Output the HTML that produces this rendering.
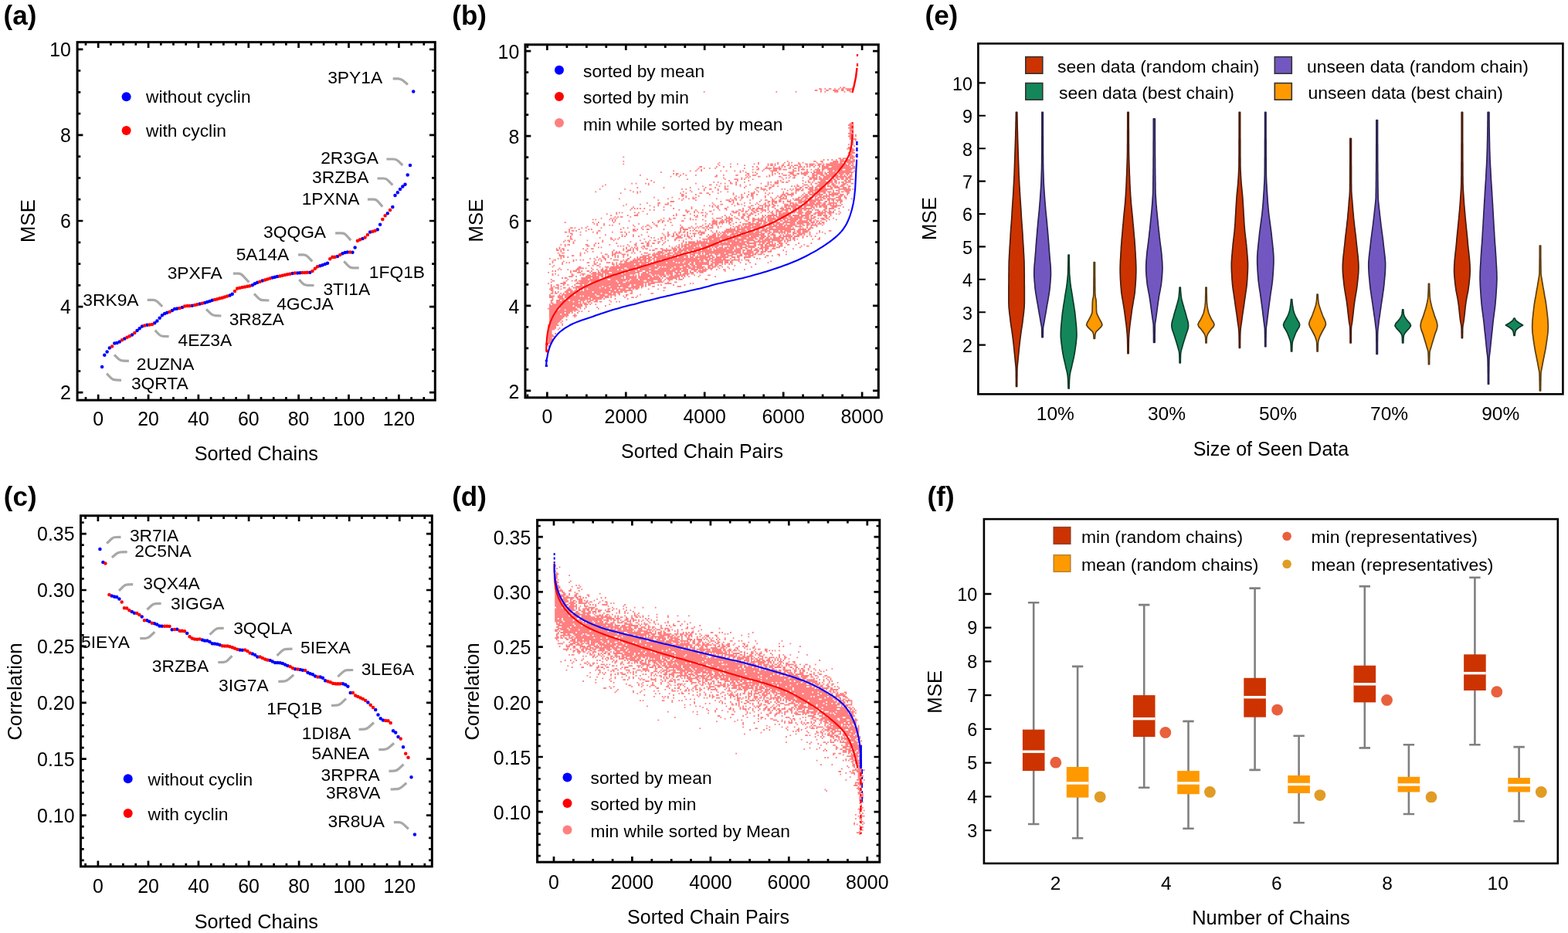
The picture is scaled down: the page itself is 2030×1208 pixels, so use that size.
<!DOCTYPE html>
<html><head><meta charset="utf-8"><title>Figure</title>
<style>
html,body{margin:0;padding:0;background:#fff;}
body{width:2030px;height:1208px;overflow:hidden;}
svg{display:block;font-family:'Liberation Sans', sans-serif;}
</style></head><body>
<svg width="2030" height="1208" viewBox="0 0 2030 1208">
<rect width="2030" height="1208" fill="#fff"/>
<rect x="100.1" y="54.6" width="463.2" height="463.5" fill="none" stroke="#000" stroke-width="3"/>
<path d="M111 518.1L111 513.9M111 54.6L111 58.8M127.2 518.1L127.2 510.8M127.2 54.6L127.2 61.9M143.4 518.1L143.4 513.9M143.4 54.6L143.4 58.8M159.6 518.1L159.6 513.9M159.6 54.6L159.6 58.8M175.8 518.1L175.8 513.9M175.8 54.6L175.8 58.8M192.1 518.1L192.1 510.8M192.1 54.6L192.1 61.9M208.3 518.1L208.3 513.9M208.3 54.6L208.3 58.8M224.5 518.1L224.5 513.9M224.5 54.6L224.5 58.8M240.7 518.1L240.7 513.9M240.7 54.6L240.7 58.8M256.9 518.1L256.9 510.8M256.9 54.6L256.9 61.9M273.1 518.1L273.1 513.9M273.1 54.6L273.1 58.8M289.4 518.1L289.4 513.9M289.4 54.6L289.4 58.8M305.6 518.1L305.6 513.9M305.6 54.6L305.6 58.8M321.8 518.1L321.8 510.8M321.8 54.6L321.8 61.9M338 518.1L338 513.9M338 54.6L338 58.8M354.2 518.1L354.2 513.9M354.2 54.6L354.2 58.8M370.4 518.1L370.4 513.9M370.4 54.6L370.4 58.8M386.6 518.1L386.6 510.8M386.6 54.6L386.6 61.9M402.9 518.1L402.9 513.9M402.9 54.6L402.9 58.8M419.1 518.1L419.1 513.9M419.1 54.6L419.1 58.8M435.3 518.1L435.3 513.9M435.3 54.6L435.3 58.8M451.5 518.1L451.5 510.8M451.5 54.6L451.5 61.9M467.7 518.1L467.7 513.9M467.7 54.6L467.7 58.8M483.9 518.1L483.9 513.9M483.9 54.6L483.9 58.8M500.1 518.1L500.1 513.9M500.1 54.6L500.1 58.8M516.4 518.1L516.4 510.8M516.4 54.6L516.4 61.9M532.6 518.1L532.6 513.9M532.6 54.6L532.6 58.8M548.8 518.1L548.8 513.9M548.8 54.6L548.8 58.8M100.1 508.2L107.4 508.2M563.3 508.2L556 508.2M100.1 480.5L104.3 480.5M563.3 480.5L559.1 480.5M100.1 452.7L104.3 452.7M563.3 452.7L559.1 452.7M100.1 424.9L104.3 424.9M563.3 424.9L559.1 424.9M100.1 397.1L107.4 397.1M563.3 397.1L556 397.1M100.1 369.3L104.3 369.3M563.3 369.3L559.1 369.3M100.1 341.6L104.3 341.6M563.3 341.6L559.1 341.6M100.1 313.8L104.3 313.8M563.3 313.8L559.1 313.8M100.1 286L107.4 286M563.3 286L556 286M100.1 258.2L104.3 258.2M563.3 258.2L559.1 258.2M100.1 230.4L104.3 230.4M563.3 230.4L559.1 230.4M100.1 202.7L104.3 202.7M563.3 202.7L559.1 202.7M100.1 174.9L107.4 174.9M563.3 174.9L556 174.9M100.1 147.1L104.3 147.1M563.3 147.1L559.1 147.1M100.1 119.3L104.3 119.3M563.3 119.3L559.1 119.3M100.1 91.5L104.3 91.5M563.3 91.5L559.1 91.5M100.1 63.8L107.4 63.8M563.3 63.8L556 63.8" stroke="#000" stroke-width="2.7" fill="none"/>
<text x="4.6" y="31.6" font-size="35" font-weight="bold">(a)</text>
<text x="91.9" y="517.1" font-size="24.9" text-anchor="end">2</text>
<text x="91.9" y="406" font-size="24.9" text-anchor="end">4</text>
<text x="91.9" y="294.9" font-size="24.9" text-anchor="end">6</text>
<text x="91.9" y="183.8" font-size="24.9" text-anchor="end">8</text>
<text x="91.9" y="72.7" font-size="24.9" text-anchor="end">10</text>
<text x="127.2" y="551" font-size="24.9" text-anchor="middle">0</text>
<text x="192.1" y="551" font-size="24.9" text-anchor="middle">20</text>
<text x="256.9" y="551" font-size="24.9" text-anchor="middle">40</text>
<text x="321.8" y="551" font-size="24.9" text-anchor="middle">60</text>
<text x="386.6" y="551" font-size="24.9" text-anchor="middle">80</text>
<text x="451.5" y="551" font-size="24.9" text-anchor="middle">100</text>
<text x="516.4" y="551" font-size="24.9" text-anchor="middle">120</text>
<text x="331.8" y="595.5" font-size="25.3" text-anchor="middle">Sorted Chains</text>
<text x="45" y="286" font-size="25.8" text-anchor="middle" transform="rotate(-90 45 286)">MSE</text>
<path d="M132.1 475h0.02M135.3 459.8h0.02M138.6 455.6h0.02M141.8 450.6h0.02M148.3 444.5h0.02M151.5 443.9h0.02M154.8 442.4h0.02M161.3 438.5h0.02M171 433.5h0.02M177.5 428.1h0.02M180.7 425.2h0.02M184 422.6h0.02M190.5 420.7h0.02M200.2 418.2h0.02M203.4 415.6h0.02M206.7 411.7h0.02M209.9 408.2h0.02M213.2 406.1h0.02M216.4 404.8h0.02M222.9 402h0.02M226.1 400.1h0.02M229.4 399.5h0.02M235.9 397.9h0.02M248.8 395.8h0.02M258.6 393.4h0.02M265.1 392.1h0.02M268.3 391.1h0.02M271.5 389.9h0.02M274.8 388.8h0.02M297.5 382.4h0.02M300.7 380.7h0.02M326.7 369.2h0.02M329.9 367.3h0.02M333.2 365.7h0.02M339.6 363.6h0.02M352.6 359.5h0.02M355.9 358.8h0.02M359.1 358.1h0.02M378.6 354h0.02M385.1 353.4h0.02M388.3 353.3h0.02M401.3 352.7h0.02M414.2 344.2h0.02M417.5 343.3h0.02M420.7 342h0.02M424 340.7h0.02M436.9 331.9h0.02M443.4 328.3h0.02M446.7 327.1h0.02M449.9 326.4h0.02M456.4 326.8h0.02M459.6 320.6h0.02M469.4 308.9h0.02M479.1 300.6h0.02M488.8 297.2h0.02M492.1 290.7h0.02M501.8 276.2h0.02M508.3 268h0.02M511.5 253.1h0.02M514.8 249.2h0.02M518 245.1h0.02M521.3 241.6h0.02M524.5 238.8h0.02M527.7 226.5h0.02M531 214h0.02M535.2 118.5h0.02" stroke="#0000ff" stroke-width="4.5" stroke-linecap="round" fill="none"/>
<path d="M145.1 448.4h0.02M158 440.2h0.02M164.5 436.8h0.02M167.8 435.2h0.02M174.3 431.1h0.02M187.2 421.5h0.02M193.7 420.5h0.02M197 420.1h0.02M219.7 403.7h0.02M232.6 399h0.02M239.1 396.5h0.02M242.4 395.9h0.02M245.6 395.9h0.02M252.1 395h0.02M255.3 394.2h0.02M261.8 392.8h0.02M278 388h0.02M281.3 387.2h0.02M284.5 386.3h0.02M287.8 385.4h0.02M291 384.5h0.02M294.2 383.5h0.02M304 377.1h0.02M307.2 373.6h0.02M310.5 372.7h0.02M313.7 372.1h0.02M316.9 371.4h0.02M320.2 370.8h0.02M323.4 370.2h0.02M336.4 364.7h0.02M342.9 362.6h0.02M346.1 361.5h0.02M349.4 360.5h0.02M362.3 357.4h0.02M365.6 356.7h0.02M368.8 356h0.02M372.1 355.3h0.02M375.3 354.7h0.02M381.8 353.5h0.02M391.5 353.1h0.02M394.8 353h0.02M398 352.8h0.02M404.5 350.9h0.02M407.8 347.8h0.02M411 345.2h0.02M427.2 335.2h0.02M430.5 332.8h0.02M433.7 332.8h0.02M440.2 329.9h0.02M453.2 326.6h0.02M462.9 311.7h0.02M466.1 310.3h0.02M472.6 307.5h0.02M475.9 304h0.02M482.3 299.8h0.02M485.6 298.8h0.02M495.3 284h0.02M498.6 279.3h0.02M505 271.9h0.02" stroke="#ff0000" stroke-width="4.5" stroke-linecap="round" fill="none"/>
<circle cx="163.6" cy="125.2" r="6" fill="#0000ff"/>
<circle cx="163.6" cy="168.9" r="6" fill="#ff0000"/>
<text x="189" y="133.2" font-size="22.8">without cyclin</text>
<text x="189" y="177" font-size="22.8">with cyclin</text>
<path d="M508.6 101.8L515.5 101.8Q518.5 101.8 521.4 104.1L528 109.5" stroke="#a8a8a8" stroke-width="3.2" fill="none"/>
<text x="424.2" y="107.6" font-size="22.8">3PY1A</text>
<path d="M500.4 206L509.2 206Q513 206 515.5 208.4L521.3 214" stroke="#a8a8a8" stroke-width="3.2" fill="none"/>
<text x="415.2" y="211.6" font-size="22.8">2R3GA</text>
<path d="M488.5 231L496.6 231Q500 231 502.5 233.6L508.3 239.6" stroke="#a8a8a8" stroke-width="3.2" fill="none"/>
<text x="404" y="237.4" font-size="22.8">3RZBA</text>
<path d="M475.9 258.2L483.7 258.2Q487 258.2 489.5 261L495.2 267.6" stroke="#a8a8a8" stroke-width="3.2" fill="none"/>
<text x="390.7" y="265.2" font-size="22.8">1PXNA</text>
<path d="M434.1 301.9L442.4 301.9Q446 301.9 448.5 304.7L454.2 311.1" stroke="#a8a8a8" stroke-width="3.2" fill="none"/>
<text x="341" y="308.2" font-size="22.8">3QQGA</text>
<path d="M386.1 329.8L393 329.8Q396 329.8 398.5 332.4L404.3 338.3" stroke="#a8a8a8" stroke-width="3.2" fill="none"/>
<text x="305.7" y="336.5" font-size="22.8">5A14A</text>
<path d="M445.3 338.3L451 344.3Q453.5 346.9 456.9 346.9L464.7 346.9" stroke="#a8a8a8" stroke-width="3.2" fill="none"/>
<text x="477.8" y="360" font-size="22.8">1FQ1B</text>
<path d="M387.2 362L392 367.1Q394 369.3 397.8 369.4L406.5 369.5" stroke="#a8a8a8" stroke-width="3.2" fill="none"/>
<text x="418.4" y="382.2" font-size="22.8">3TI1A</text>
<path d="M329 380.4L334.6 386.1Q337 388.6 340.4 388.7L348.4 389" stroke="#a8a8a8" stroke-width="3.2" fill="none"/>
<text x="358.2" y="400.9" font-size="22.8">4GCJA</text>
<path d="M267 400.4L272.9 406.1Q275.5 408.6 278.8 408.7L286.4 409" stroke="#a8a8a8" stroke-width="3.2" fill="none"/>
<text x="296.7" y="421.3" font-size="22.8">3R8ZA</text>
<path d="M301.8 354.2L308.9 354.2Q312 354.2 315.1 357.6L322.4 365.5" stroke="#a8a8a8" stroke-width="3.2" fill="none"/>
<text x="216.7" y="361.3" font-size="22.8">3PXFA</text>
<path d="M190.7 388.3L198.3 388.3Q201.5 388.3 204.1 390.9L210.2 396.9" stroke="#a8a8a8" stroke-width="3.2" fill="none"/>
<text x="107.3" y="395.5" font-size="22.8">3RK9A</text>
<path d="M200.7 427.7L205.8 433Q208 435.3 211.2 435.4L218.6 435.6" stroke="#a8a8a8" stroke-width="3.2" fill="none"/>
<text x="230.5" y="448.2" font-size="22.8">4EZ3A</text>
<path d="M148 459.5L153.6 464.8Q156 467 159.3 467.1L166.9 467.4" stroke="#a8a8a8" stroke-width="3.2" fill="none"/>
<text x="176.8" y="479.3" font-size="22.8">2UZNA</text>
<path d="M138.1 483.7L143.6 489.4Q146 491.8 149.3 491.9L157 492.3" stroke="#a8a8a8" stroke-width="3.2" fill="none"/>
<text x="169.9" y="504.2" font-size="22.8">3QRTA</text>
<rect x="104.5" y="667.7" width="454.8" height="454.2" fill="none" stroke="#000" stroke-width="3"/>
<path d="M110.6 1121.9L110.6 1117.7M110.6 667.7L110.6 671.9M126.9 1121.9L126.9 1114.6M126.9 667.7L126.9 675M143.2 1121.9L143.2 1117.7M143.2 667.7L143.2 671.9M159.4 1121.9L159.4 1117.7M159.4 667.7L159.4 671.9M175.7 1121.9L175.7 1117.7M175.7 667.7L175.7 671.9M192 1121.9L192 1114.6M192 667.7L192 675M208.2 1121.9L208.2 1117.7M208.2 667.7L208.2 671.9M224.5 1121.9L224.5 1117.7M224.5 667.7L224.5 671.9M240.8 1121.9L240.8 1117.7M240.8 667.7L240.8 671.9M257 1121.9L257 1114.6M257 667.7L257 675M273.3 1121.9L273.3 1117.7M273.3 667.7L273.3 671.9M289.6 1121.9L289.6 1117.7M289.6 667.7L289.6 671.9M305.8 1121.9L305.8 1117.7M305.8 667.7L305.8 671.9M322.1 1121.9L322.1 1114.6M322.1 667.7L322.1 675M338.3 1121.9L338.3 1117.7M338.3 667.7L338.3 671.9M354.6 1121.9L354.6 1117.7M354.6 667.7L354.6 671.9M370.9 1121.9L370.9 1117.7M370.9 667.7L370.9 671.9M387.1 1121.9L387.1 1114.6M387.1 667.7L387.1 675M403.4 1121.9L403.4 1117.7M403.4 667.7L403.4 671.9M419.7 1121.9L419.7 1117.7M419.7 667.7L419.7 671.9M435.9 1121.9L435.9 1117.7M435.9 667.7L435.9 671.9M452.2 1121.9L452.2 1114.6M452.2 667.7L452.2 675M468.5 1121.9L468.5 1117.7M468.5 667.7L468.5 671.9M484.7 1121.9L484.7 1117.7M484.7 667.7L484.7 671.9M501 1121.9L501 1117.7M501 667.7L501 671.9M517.3 1121.9L517.3 1114.6M517.3 667.7L517.3 675M533.5 1121.9L533.5 1117.7M533.5 667.7L533.5 671.9M549.8 1121.9L549.8 1117.7M549.8 667.7L549.8 671.9M104.5 1113.9L108.7 1113.9M559.3 1113.9L555.1 1113.9M104.5 1099.3L108.7 1099.3M559.3 1099.3L555.1 1099.3M104.5 1084.8L108.7 1084.8M559.3 1084.8L555.1 1084.8M104.5 1070.2L108.7 1070.2M559.3 1070.2L555.1 1070.2M104.5 1055.6L111.8 1055.6M559.3 1055.6L552 1055.6M104.5 1041L108.7 1041M559.3 1041L555.1 1041M104.5 1026.4L108.7 1026.4M559.3 1026.4L555.1 1026.4M104.5 1011.9L108.7 1011.9M559.3 1011.9L555.1 1011.9M104.5 997.3L108.7 997.3M559.3 997.3L555.1 997.3M104.5 982.7L111.8 982.7M559.3 982.7L552 982.7M104.5 968.1L108.7 968.1M559.3 968.1L555.1 968.1M104.5 953.5L108.7 953.5M559.3 953.5L555.1 953.5M104.5 939L108.7 939M559.3 939L555.1 939M104.5 924.4L108.7 924.4M559.3 924.4L555.1 924.4M104.5 909.8L111.8 909.8M559.3 909.8L552 909.8M104.5 895.2L108.7 895.2M559.3 895.2L555.1 895.2M104.5 880.6L108.7 880.6M559.3 880.6L555.1 880.6M104.5 866.1L108.7 866.1M559.3 866.1L555.1 866.1M104.5 851.5L108.7 851.5M559.3 851.5L555.1 851.5M104.5 836.9L111.8 836.9M559.3 836.9L552 836.9M104.5 822.3L108.7 822.3M559.3 822.3L555.1 822.3M104.5 807.7L108.7 807.7M559.3 807.7L555.1 807.7M104.5 793.2L108.7 793.2M559.3 793.2L555.1 793.2M104.5 778.6L108.7 778.6M559.3 778.6L555.1 778.6M104.5 764L111.8 764M559.3 764L552 764M104.5 749.4L108.7 749.4M559.3 749.4L555.1 749.4M104.5 734.8L108.7 734.8M559.3 734.8L555.1 734.8M104.5 720.3L108.7 720.3M559.3 720.3L555.1 720.3M104.5 705.7L108.7 705.7M559.3 705.7L555.1 705.7M104.5 691.1L111.8 691.1M559.3 691.1L552 691.1M104.5 676.5L108.7 676.5M559.3 676.5L555.1 676.5" stroke="#000" stroke-width="2.7" fill="none"/>
<text x="4.8" y="654.6" font-size="35" font-weight="bold">(c)</text>
<text x="96.5" y="1064.6" font-size="24.9" text-anchor="end">0.10</text>
<text x="96.5" y="991.7" font-size="24.9" text-anchor="end">0.15</text>
<text x="96.5" y="918.8" font-size="24.9" text-anchor="end">0.20</text>
<text x="96.5" y="845.9" font-size="24.9" text-anchor="end">0.25</text>
<text x="96.5" y="773" font-size="24.9" text-anchor="end">0.30</text>
<text x="96.5" y="700.1" font-size="24.9" text-anchor="end">0.35</text>
<text x="126.9" y="1156" font-size="24.9" text-anchor="middle">0</text>
<text x="192" y="1156" font-size="24.9" text-anchor="middle">20</text>
<text x="257" y="1156" font-size="24.9" text-anchor="middle">40</text>
<text x="322.1" y="1156" font-size="24.9" text-anchor="middle">60</text>
<text x="387.1" y="1156" font-size="24.9" text-anchor="middle">80</text>
<text x="452.2" y="1156" font-size="24.9" text-anchor="middle">100</text>
<text x="517.3" y="1156" font-size="24.9" text-anchor="middle">120</text>
<text x="331.8" y="1201.5" font-size="25.3" text-anchor="middle">Sorted Chains</text>
<text x="28.1" y="895.5" font-size="25.8" text-anchor="middle" transform="rotate(-90 28.1 895.5)">Correlation</text>
<path d="M129.4 710.9h0.02M133.4 728h0.02M144.6 771.4h0.02M147.9 772.5h0.02M151.1 772.9h0.02M154.4 775.5h0.02M170.7 792h0.02M173.9 793.8h0.02M183.7 798.5h0.02M190.2 803.2h0.02M193.4 804.7h0.02M199.9 807.3h0.02M203.2 808.5h0.02M206.5 810.4h0.02M209.7 810.7h0.02M222.7 815.2h0.02M229.2 814.8h0.02M242.2 820h0.02M261.8 828.5h0.02M265 829.5h0.02M268.3 829.5h0.02M271.5 831.1h0.02M274.8 833.2h0.02M278 833.6h0.02M281.3 834h0.02M284.5 835.1h0.02M310.5 841.6h0.02M313.8 841.7h0.02M326.8 846.5h0.02M330.1 848.1h0.02M333.3 850.6h0.02M349.6 855h0.02M352.8 856.5h0.02M356.1 858h0.02M359.3 858.1h0.02M362.6 858.3h0.02M365.8 859h0.02M369.1 860.4h0.02M372.4 862h0.02M382.1 866.3h0.02M388.6 867h0.02M391.9 867.8h0.02M398.4 870.8h0.02M401.6 872.3h0.02M404.9 873.2h0.02M408.1 875.6h0.02M414.6 876.4h0.02M417.9 877.8h0.02M421.1 881.3h0.02M443.9 885.3h0.02M447.2 886.5h0.02M450.4 888.7h0.02M453.7 897h0.02M476.4 909.6h0.02M486.2 919.1h0.02M489.5 925.5h0.02M492.7 930.2h0.02M496 932.6h0.02M509 946.3h0.02M512.2 948.6h0.02M515.5 953.9h0.02M522 967.2h0.02M532.5 1006.2h0.02M536.9 1080.4h0.02" stroke="#0000ff" stroke-width="4.5" stroke-linecap="round" fill="none"/>
<path d="M136.4 729.6h0.02M141.4 770h0.02M157.7 779.4h0.02M160.9 787.2h0.02M164.2 787.5h0.02M167.4 790.3h0.02M177.2 794.1h0.02M180.4 796.1h0.02M186.9 803.2h0.02M196.7 806.8h0.02M213 810.7h0.02M216.2 810.7h0.02M219.5 811.1h0.02M226 815h0.02M232.5 816.7h0.02M235.7 816.7h0.02M239 817.2h0.02M245.5 824.2h0.02M248.7 826.4h0.02M252 827.5h0.02M255.2 827.7h0.02M258.5 827.5h0.02M287.8 836.3h0.02M291 836.5h0.02M294.3 836.5h0.02M297.5 837.3h0.02M300.8 838.3h0.02M304 839.6h0.02M307.3 840.8h0.02M317.1 841.5h0.02M320.3 843.1h0.02M323.6 845.4h0.02M336.6 850.6h0.02M339.8 852h0.02M343.1 853.6h0.02M346.3 854.4h0.02M375.6 863.1h0.02M378.9 865h0.02M385.4 866.5h0.02M395.1 868h0.02M411.4 876.5h0.02M424.4 882.2h0.02M427.7 883.3h0.02M430.9 884.7h0.02M434.2 885.3h0.02M437.4 885.3h0.02M440.7 885.3h0.02M456.9 897.1h0.02M460.2 900.5h0.02M463.4 902h0.02M466.7 903.4h0.02M469.9 905.1h0.02M473.2 907.1h0.02M479.7 912.8h0.02M483 916h0.02M499.2 932.9h0.02M502.5 933.3h0.02M505.7 936.1h0.02M518.7 956.6h0.02M525.2 975.8h0.02M528.5 980.7h0.02" stroke="#ff0000" stroke-width="4.5" stroke-linecap="round" fill="none"/>
<circle cx="165.7" cy="1008.3" r="6" fill="#0000ff"/>
<circle cx="165.7" cy="1053" r="6" fill="#ff0000"/>
<text x="191.5" y="1017.2" font-size="22.8">without cyclin</text>
<text x="191.5" y="1062.3" font-size="22.8">with cyclin</text>
<path d="M138.2 703.6L144 698Q146.5 695.6 149.5 695.5L156.5 695.3" stroke="#a8a8a8" stroke-width="3.2" fill="none"/>
<text x="167.9" y="701.1" font-size="22.8">3R7IA</text>
<path d="M144.9 721.8L150.6 717Q153 715 156.5 714.9L164.7 714.7" stroke="#a8a8a8" stroke-width="3.2" fill="none"/>
<text x="174.2" y="720.5" font-size="22.8">2C5NA</text>
<path d="M154 764.9L159.6 759.4Q162 757 165.1 756.9L172.2 756.6" stroke="#a8a8a8" stroke-width="3.2" fill="none"/>
<text x="185.3" y="762.7" font-size="22.8">3QX4A</text>
<path d="M190.4 789.2L196.1 784Q198.5 781.7 201.5 781.6L208.6 781.4" stroke="#a8a8a8" stroke-width="3.2" fill="none"/>
<text x="220.9" y="788.5" font-size="22.8">3IGGA</text>
<path d="M271.5 821.6L277.8 815.9Q280.5 813.5 283.3 813.4L289.7 813.3" stroke="#a8a8a8" stroke-width="3.2" fill="none"/>
<text x="302.2" y="820.5" font-size="22.8">3QQLA</text>
<path d="M181.3 826.6L188.4 826.5Q191.5 826.4 194.1 824L200.3 818.3" stroke="#a8a8a8" stroke-width="3.2" fill="none"/>
<text x="105" y="838.5" font-size="22.8">5IEYA</text>
<path d="M282.3 857.5L289.4 857.4Q292.5 857.3 294.9 854.9L300.5 849.2" stroke="#a8a8a8" stroke-width="3.2" fill="none"/>
<text x="196.8" y="869.9" font-size="22.8">3RZBA</text>
<path d="M360.3 882.4L367.4 882.2Q370.5 882.1 373.4 879.6L380.2 873.7" stroke="#a8a8a8" stroke-width="3.2" fill="none"/>
<text x="283.1" y="895.3" font-size="22.8">3IG7A</text>
<path d="M358.6 848.9L364.8 842.9Q367.5 840.4 370.8 840.3L378.5 840.1" stroke="#a8a8a8" stroke-width="3.2" fill="none"/>
<text x="389.1" y="846.1" font-size="22.8">5IEXA</text>
<path d="M437.3 876.2L443.6 870.3Q446.3 867.8 449.6 867.7L457.2 867.5" stroke="#a8a8a8" stroke-width="3.2" fill="none"/>
<text x="467.7" y="873.7" font-size="22.8">3LE6A</text>
<path d="M429 913.5L436 913.2Q439 913.1 441.7 910.6L448 904.7" stroke="#a8a8a8" stroke-width="3.2" fill="none"/>
<text x="345.2" y="925.4" font-size="22.8">1FQ1B</text>
<path d="M464.6 944.4L471.7 944.1Q474.7 944 477.5 941.5L484 935.5" stroke="#a8a8a8" stroke-width="3.2" fill="none"/>
<text x="390.8" y="956.5" font-size="22.8">1DI8A</text>
<path d="M490.3 970.6L497.4 970.4Q500.5 970.3 503.4 967.9L510.1 962.3" stroke="#a8a8a8" stroke-width="3.2" fill="none"/>
<text x="403.5" y="982.5" font-size="22.8">5ANEA</text>
<path d="M503.5 998.4L510.5 998.1Q513.5 998 516.2 995.5L522.5 989.6" stroke="#a8a8a8" stroke-width="3.2" fill="none"/>
<text x="415.6" y="1010.7" font-size="22.8">3RPRA</text>
<path d="M505.6 1022L513.6 1021.7Q517 1021.6 519.8 1019.3L526.3 1013.8" stroke="#a8a8a8" stroke-width="3.2" fill="none"/>
<text x="421.9" y="1034.4" font-size="22.8">3R8VA</text>
<path d="M509.9 1064.6L516.6 1064.6Q519.5 1064.6 522.3 1067.2L528.8 1073.2" stroke="#a8a8a8" stroke-width="3.2" fill="none"/>
<text x="424.5" y="1071.1" font-size="22.8">3R8UA</text>
<rect x="680" y="57.8" width="457.3" height="457" fill="none" stroke="#000" stroke-width="3"/>
<path d="M682.9 514.8L682.9 510.6M682.9 57.8L682.9 62M708.4 514.8L708.4 507.5M708.4 57.8L708.4 65.1M733.9 514.8L733.9 510.6M733.9 57.8L733.9 62M759.4 514.8L759.4 510.6M759.4 57.8L759.4 62M784.8 514.8L784.8 510.6M784.8 57.8L784.8 62M810.3 514.8L810.3 507.5M810.3 57.8L810.3 65.1M835.8 514.8L835.8 510.6M835.8 57.8L835.8 62M861.3 514.8L861.3 510.6M861.3 57.8L861.3 62M886.8 514.8L886.8 510.6M886.8 57.8L886.8 62M912.2 514.8L912.2 507.5M912.2 57.8L912.2 65.1M937.7 514.8L937.7 510.6M937.7 57.8L937.7 62M963.2 514.8L963.2 510.6M963.2 57.8L963.2 62M988.7 514.8L988.7 510.6M988.7 57.8L988.7 62M1014.2 514.8L1014.2 507.5M1014.2 57.8L1014.2 65.1M1039.6 514.8L1039.6 510.6M1039.6 57.8L1039.6 62M1065.1 514.8L1065.1 510.6M1065.1 57.8L1065.1 62M1090.6 514.8L1090.6 510.6M1090.6 57.8L1090.6 62M1116.1 514.8L1116.1 507.5M1116.1 57.8L1116.1 65.1M680 505.8L687.3 505.8M1137.3 505.8L1130 505.8M680 478.3L684.2 478.3M1137.3 478.3L1133.1 478.3M680 450.9L684.2 450.9M1137.3 450.9L1133.1 450.9M680 423.4L684.2 423.4M1137.3 423.4L1133.1 423.4M680 395.9L687.3 395.9M1137.3 395.9L1130 395.9M680 368.4L684.2 368.4M1137.3 368.4L1133.1 368.4M680 340.9L684.2 340.9M1137.3 340.9L1133.1 340.9M680 313.5L684.2 313.5M1137.3 313.5L1133.1 313.5M680 286L687.3 286M1137.3 286L1130 286M680 258.5L684.2 258.5M1137.3 258.5L1133.1 258.5M680 231.1L684.2 231.1M1137.3 231.1L1133.1 231.1M680 203.6L684.2 203.6M1137.3 203.6L1133.1 203.6M680 176.1L687.3 176.1M1137.3 176.1L1130 176.1M680 148.6L684.2 148.6M1137.3 148.6L1133.1 148.6M680 121.1L684.2 121.1M1137.3 121.1L1133.1 121.1M680 93.7L684.2 93.7M1137.3 93.7L1133.1 93.7M680 66.2L687.3 66.2M1137.3 66.2L1130 66.2" stroke="#000" stroke-width="2.7" fill="none"/>
<text x="585.3" y="31.6" font-size="35" font-weight="bold">(b)</text>
<text x="672.3" y="515.8" font-size="24.9" text-anchor="end">2</text>
<text x="672.3" y="405.9" font-size="24.9" text-anchor="end">4</text>
<text x="672.3" y="296" font-size="24.9" text-anchor="end">6</text>
<text x="672.3" y="186.1" font-size="24.9" text-anchor="end">8</text>
<text x="672.3" y="76.2" font-size="24.9" text-anchor="end">10</text>
<text x="708.4" y="548.3" font-size="24.9" text-anchor="middle">0</text>
<text x="810.3" y="548.3" font-size="24.9" text-anchor="middle">2000</text>
<text x="912.2" y="548.3" font-size="24.9" text-anchor="middle">4000</text>
<text x="1014.2" y="548.3" font-size="24.9" text-anchor="middle">6000</text>
<text x="1116.1" y="548.3" font-size="24.9" text-anchor="middle">8000</text>
<text x="909" y="593" font-size="25" text-anchor="middle">Sorted Chain Pairs</text>
<text x="625" y="285.5" font-size="25.8" text-anchor="middle" transform="rotate(-90 625 285.5)">MSE</text>
<path transform="scale(1.8)" d="M604 63h1m1 0h2m5 0h1m-25 1h2m2 0h1m2 0h2m2 0h1m2 0h1m1 0h2m1 0h6m-28 1h2m2 0h1m3 0h2m3 0h4m2 0h2m2 0h3m1 0h1m-108 1h1m51 0h1m13 0h1m17 0h1m2 0h1m6 0h3m4 0h1m3 0h1m-1 23h3m-4 1h4m-3 1h3m-4 1h4m-3 1h3m-3 1h3m-3 1h1m1 0h1m-4 1h4m-3 1h3m1 0h1m-6 1h4m1 0h1m-5 1h3m-3 1h5m-4 1h2m1 0h1m-4 1h2m-2 1h2m-4 1h1m1 0h2m-2 1h1m1 0h1m-5 1h3m-4 1h5m-3 1h4m-3 1h2m-4 1h1m1 0h3m-4 1h2m-2 1h3m1 0h1m-168 1h1m162 0h4m-12 1h2m1 0h4m1 0h3m-22 1h1m2 0h1m2 0h1m2 0h1m2 0h3m1 0h4m1 0h2m-167 1h1m117 0h1m18 0h2m3 0h2m7 0h4m1 0h11m-98 1h1m27 0h1m13 0h1m4 0h1m2 0h1m1 0h1m4 0h1m2 0h1m9 0h1m3 0h1m5 0h6m1 0h2m1 0h1m1 0h5m-166 1h1m67 0h1m8 0h1m4 0h1m11 0h1m2 0h1m6 0h1m1 0h2m1 0h1m1 0h1m3 0h1m3 0h1m6 0h2m3 0h2m1 0h4m2 0h3m1 0h1m1 0h15m1 0h2m1 0h1m-97 1h1m17 0h1m16 0h1m1 0h2m1 0h1m4 0h2m2 0h2m1 0h1m1 0h3m1 0h1m4 0h1m1 0h3m1 0h1m1 0h2m1 0h2m1 0h17m1 0h2m-111 1h2m10 0h1m4 0h1m4 0h1m15 0h1m2 0h1m6 0h1m4 0h1m3 0h1m1 0h1m1 0h1m3 0h1m1 0h1m3 0h3m1 0h1m1 0h1m1 0h1m2 0h1m3 0h1m1 0h5m2 0h14m1 0h2m-113 1h1m3 0h1m3 0h1m3 0h1m20 0h1m9 0h1m4 0h5m1 0h6m5 0h2m2 0h2m1 0h1m2 0h1m10 0h1m2 0h24m-114 1h1m2 0h1m36 0h1m2 0h2m3 0h1m3 0h1m2 0h3m1 0h2m1 0h3m4 0h1m3 0h1m1 0h3m1 0h1m2 0h1m2 0h4m1 0h2m2 0h11m2 0h5m-129 1h1m11 0h1m3 0h1m3 0h1m13 0h1m3 0h1m5 0h1m3 0h1m1 0h1m13 0h1m5 0h5m11 0h3m1 0h1m5 0h1m4 0h1m1 0h3m1 0h1m4 0h3m1 0h2m1 0h9m2 0h1m-140 1h1m56 0h1m3 0h1m4 0h1m1 0h1m11 0h1m3 0h1m7 0h4m5 0h1m1 0h4m1 0h1m1 0h7m1 0h1m1 0h6m2 0h11m-130 1h1m1 0h2m3 0h1m45 0h2m5 0h1m10 0h1m1 0h1m2 0h1m1 0h1m5 0h3m2 0h2m1 0h5m3 0h2m1 0h5m1 0h2m1 0h5m2 0h4m1 0h3m1 0h1m-153 1h1m25 0h1m2 0h1m3 0h1m6 0h1m14 0h1m4 0h1m8 0h2m5 0h1m1 0h1m2 0h3m9 0h1m1 0h1m7 0h3m1 0h1m2 0h3m5 0h2m4 0h4m2 0h3m1 0h9m1 0h2m1 0h1m1 0h1m1 0h2m-131 1h1m5 0h1m25 0h2m21 0h1m1 0h1m5 0h2m4 0h1m1 0h1m6 0h2m6 0h1m2 0h1m9 0h1m2 0h2m1 0h1m1 0h1m2 0h17m1 0h3m-93 1h1m12 0h1m2 0h1m1 0h1m23 0h1m2 0h1m1 0h1m2 0h2m5 0h1m4 0h6m1 0h2m1 0h5m1 0h2m1 0h2m1 0h3m1 0h4m-147 1h1m28 0h1m26 0h1m6 0h3m2 0h1m1 0h1m5 0h1m21 0h1m18 0h2m1 0h3m1 0h7m1 0h1m1 0h2m1 0h2m1 0h2m1 0h2m1 0h3m-146 1h1m55 0h1m5 0h1m7 0h1m20 0h1m1 0h1m5 0h1m9 0h1m3 0h1m3 0h1m4 0h4m2 0h3m1 0h2m5 0h2m1 0h2m-142 1h1m42 0h1m2 0h1m8 0h1m3 0h1m5 0h1m16 0h1m1 0h1m2 0h3m2 0h2m1 0h2m12 0h1m1 0h2m1 0h1m3 0h11m1 0h2m1 0h1m1 0h2m1 0h4m-158 1h1m2 0h1m6 0h1m1 0h1m33 0h1m17 0h1m2 0h1m3 0h2m2 0h1m17 0h1m4 0h1m4 0h3m17 0h1m5 0h1m2 0h2m1 0h8m1 0h2m1 0h1m1 0h1m2 0h3m3 0h2m-179 1h1m30 0h1m43 0h2m3 0h1m13 0h1m2 0h1m6 0h1m12 0h1m1 0h1m1 0h1m16 0h1m4 0h3m2 0h1m4 0h5m2 0h1m2 0h3m4 0h3m1 0h1m-177 1h1m71 0h1m11 0h1m3 0h1m1 0h1m8 0h1m3 0h1m13 0h2m3 0h2m2 0h1m9 0h1m1 0h1m1 0h2m2 0h1m3 0h1m2 0h1m2 0h7m1 0h3m1 0h4m1 0h3m3 0h2m-154 1h1m18 0h1m18 0h1m10 0h1m6 0h1m6 0h1m13 0h1m8 0h2m1 0h1m5 0h2m17 0h1m2 0h2m2 0h2m1 0h3m1 0h2m1 0h5m3 0h2m1 0h4m2 0h3m1 0h1m-180 1h1m17 0h1m40 0h1m2 0h1m8 0h1m3 0h1m3 0h2m4 0h1m4 0h3m19 0h1m3 0h4m2 0h1m8 0h1m1 0h1m3 0h1m1 0h1m1 0h4m1 0h1m3 0h4m1 0h13m4 0h9m1 0h1m-161 1h1m42 0h1m9 0h1m9 0h1m27 0h1m4 0h1m1 0h1m14 0h1m2 0h1m2 0h3m1 0h2m4 0h13m4 0h1m1 0h3m3 0h5m-184 1h1m26 0h1m2 0h1m1 0h1m30 0h1m5 0h1m14 0h1m5 0h1m4 0h1m14 0h1m3 0h1m2 0h1m17 0h1m8 0h1m8 0h4m1 0h1m1 0h6m1 0h3m1 0h1m3 0h1m1 0h2m1 0h3m-165 1h1m11 0h1m30 0h1m3 0h1m9 0h2m3 0h2m6 0h1m10 0h1m7 0h1m4 0h3m7 0h1m2 0h1m1 0h1m7 0h1m1 0h2m2 0h2m1 0h1m5 0h1m2 0h2m1 0h6m2 0h2m2 0h1m1 0h6m5 0h2m-121 1h2m8 0h1m9 0h1m16 0h1m5 0h1m4 0h1m1 0h2m2 0h1m7 0h1m9 0h3m1 0h5m6 0h1m1 0h2m1 0h4m1 0h5m2 0h1m1 0h7m1 0h3m2 0h1m-120 1h2m1 0h1m8 0h1m26 0h1m3 0h1m3 0h1m2 0h2m8 0h1m8 0h1m1 0h2m1 0h2m3 0h1m6 0h1m1 0h4m2 0h1m1 0h2m1 0h2m1 0h5m1 0h2m3 0h3m1 0h1m-138 1h1m12 0h1m9 0h1m4 0h1m1 0h1m27 0h1m2 0h1m1 0h2m2 0h1m3 0h1m8 0h1m3 0h1m3 0h1m1 0h2m1 0h1m1 0h1m8 0h2m1 0h4m1 0h3m1 0h1m1 0h5m1 0h1m1 0h1m4 0h4m2 0h2m-164 1h1m34 0h1m7 0h1m2 0h1m3 0h1m2 0h2m15 0h1m9 0h1m2 0h2m3 0h1m7 0h1m13 0h1m1 0h1m3 0h5m4 0h1m1 0h3m1 0h2m1 0h5m2 0h3m1 0h1m1 0h2m1 0h6m2 0h2m3 0h1m3 0h1m-140 1h1m16 0h1m9 0h1m21 0h3m1 0h2m1 0h1m2 0h1m6 0h1m7 0h1m2 0h2m3 0h2m3 0h2m4 0h1m1 0h1m2 0h6m1 0h2m1 0h11m3 0h2m1 0h2m1 0h5m-124 1h3m33 0h1m5 0h2m1 0h1m18 0h1m5 0h2m1 0h4m1 0h2m1 0h1m2 0h3m5 0h7m1 0h5m1 0h2m3 0h2m1 0h1m2 0h1m2 0h1m1 0h2m-141 1h1m7 0h2m5 0h1m31 0h1m14 0h1m2 0h1m4 0h1m3 0h1m4 0h1m5 0h1m1 0h1m2 0h1m1 0h2m4 0h1m4 0h3m1 0h1m1 0h3m1 0h3m1 0h4m1 0h4m1 0h2m2 0h6m2 0h1m-155 1h1m9 0h1m12 0h1m4 0h3m32 0h1m4 0h2m6 0h1m3 0h2m1 0h1m9 0h1m1 0h1m3 0h2m2 0h1m1 0h2m7 0h3m1 0h1m1 0h4m3 0h13m1 0h3m1 0h3m1 0h1m1 0h1m3 0h1m-158 1h1m18 0h1m5 0h1m8 0h1m23 0h1m3 0h1m1 0h1m1 0h1m1 0h1m11 0h1m6 0h1m4 0h2m4 0h3m1 0h4m2 0h2m1 0h1m4 0h13m1 0h7m1 0h2m1 0h6m2 0h8m-150 1h1m14 0h1m6 0h1m19 0h1m14 0h1m2 0h2m6 0h1m14 0h2m5 0h1m2 0h1m1 0h1m1 0h1m2 0h2m5 0h1m1 0h2m1 0h1m1 0h4m1 0h3m1 0h2m3 0h3m1 0h1m1 0h2m1 0h3m3 0h4m4 0h1m-153 1h1m1 0h1m1 0h1m1 0h1m2 0h1m20 0h1m12 0h1m18 0h1m4 0h2m11 0h1m4 0h1m1 0h2m1 0h5m3 0h1m4 0h1m3 0h3m1 0h4m1 0h14m1 0h1m7 0h2m1 0h4m3 0h1m-151 1h1m13 0h1m2 0h1m6 0h1m10 0h1m4 0h1m6 0h1m4 0h1m7 0h1m3 0h1m4 0h1m8 0h2m1 0h1m3 0h1m1 0h2m1 0h2m2 0h4m1 0h1m5 0h2m2 0h5m1 0h1m1 0h3m1 0h3m1 0h2m1 0h1m2 0h1m1 0h3m3 0h2m2 0h1m3 0h1m9 0h1m-149 1h1m30 0h3m3 0h1m1 0h1m8 0h2m14 0h2m1 0h2m2 0h2m1 0h2m3 0h2m1 0h2m2 0h1m1 0h1m2 0h1m1 0h1m2 0h5m2 0h2m2 0h1m1 0h2m1 0h3m3 0h4m4 0h2m1 0h1m1 0h2m1 0h2m1 0h1m3 0h1m-161 1h1m1 0h1m1 0h1m8 0h1m2 0h1m34 0h1m4 0h1m2 0h1m1 0h2m1 0h1m19 0h3m1 0h1m4 0h1m3 0h1m1 0h2m3 0h1m4 0h1m1 0h2m2 0h1m1 0h2m1 0h5m1 0h3m1 0h5m1 0h5m2 0h8m1 0h5m4 0h1m-169 1h1m6 0h1m14 0h1m6 0h1m20 0h1m9 0h1m11 0h1m3 0h1m12 0h1m5 0h1m2 0h2m1 0h1m1 0h3m3 0h1m9 0h2m1 0h1m1 0h7m1 0h1m5 0h3m2 0h4m2 0h2m1 0h4m1 0h1m2 0h2m3 0h1m1 0h1m-165 1h1m11 0h1m4 0h3m25 0h1m1 0h1m4 0h2m6 0h1m1 0h1m3 0h1m1 0h1m13 0h1m4 0h1m4 0h1m2 0h2m2 0h2m3 0h1m4 0h1m1 0h1m1 0h7m1 0h9m1 0h5m1 0h6m1 0h2m3 0h3m1 0h3m2 0h1m-156 1h1m1 0h1m1 0h2m5 0h1m46 0h2m5 0h1m11 0h1m2 0h1m1 0h1m3 0h1m4 0h2m2 0h2m9 0h2m1 0h4m1 0h1m1 0h8m1 0h3m1 0h7m1 0h3m1 0h1m1 0h2m6 0h2m1 0h1m-165 1h1m6 0h1m1 0h1m1 0h1m33 0h1m3 0h1m2 0h2m6 0h1m3 0h1m15 0h1m2 0h4m3 0h5m2 0h2m2 0h2m3 0h1m2 0h2m2 0h1m1 0h2m1 0h1m1 0h6m1 0h2m1 0h5m1 0h9m1 0h4m1 0h3m2 0h1m1 0h3m1 0h2m3 0h1m-174 1h1m1 0h1m9 0h1m1 0h1m1 0h1m32 0h1m5 0h2m13 0h1m1 0h1m1 0h1m4 0h1m7 0h1m5 0h1m1 0h2m1 0h3m4 0h1m3 0h1m2 0h1m2 0h8m1 0h1m1 0h10m1 0h2m1 0h8m1 0h2m3 0h4m2 0h1m4 0h3m2 0h1m4 0h1m-162 1h1m1 0h1m9 0h1m20 0h2m1 0h2m2 0h1m9 0h2m15 0h1m4 0h4m2 0h3m1 0h3m1 0h1m9 0h2m3 0h2m2 0h6m1 0h4m2 0h1m2 0h2m1 0h3m1 0h5m1 0h7m1 0h2m1 0h1m1 0h2m1 0h1m3 0h1m-189 1h1m19 0h1m3 0h1m10 0h1m27 0h1m3 0h1m2 0h1m5 0h1m29 0h4m1 0h4m1 0h1m1 0h2m3 0h1m2 0h1m5 0h2m1 0h1m2 0h2m1 0h1m1 0h3m1 0h8m2 0h9m1 0h9m1 0h3m1 0h1m1 0h1m1 0h2m-166 1h1m1 0h1m4 0h1m10 0h1m13 0h1m10 0h1m29 0h1m6 0h1m2 0h1m1 0h4m1 0h1m1 0h1m4 0h1m2 0h1m6 0h14m1 0h2m1 0h5m1 0h6m1 0h1m2 0h4m1 0h5m2 0h3m1 0h1m1 0h1m1 0h3m1 0h1m-164 1h1m4 0h1m3 0h1m1 0h1m14 0h1m9 0h2m4 0h2m5 0h1m4 0h1m5 0h1m15 0h1m3 0h1m1 0h2m2 0h1m9 0h1m5 0h2m1 0h1m1 0h1m1 0h4m1 0h4m1 0h7m1 0h3m1 0h3m1 0h9m2 0h1m1 0h2m1 0h2m1 0h5m3 0h1m-170 1h1m33 0h1m5 0h1m1 0h1m2 0h1m4 0h1m17 0h1m6 0h1m3 0h1m1 0h2m2 0h3m2 0h1m3 0h1m1 0h1m8 0h1m1 0h3m1 0h1m1 0h5m1 0h8m1 0h1m2 0h12m1 0h4m2 0h5m3 0h1m2 0h1m3 0h1m-178 1h2m1 0h1m4 0h1m2 0h1m10 0h1m15 0h1m2 0h1m9 0h1m6 0h1m20 0h3m3 0h2m1 0h1m1 0h1m1 0h1m2 0h2m1 0h1m1 0h3m3 0h1m8 0h1m2 0h1m1 0h2m1 0h17m1 0h5m2 0h11m1 0h1m4 0h1m1 0h1m2 0h1m1 0h3m-176 1h1m6 0h1m6 0h1m1 0h1m20 0h1m8 0h2m1 0h1m3 0h1m2 0h2m10 0h1m11 0h1m1 0h4m4 0h1m7 0h1m1 0h1m12 0h7m1 0h6m1 0h3m2 0h1m1 0h2m2 0h4m1 0h19m2 0h6m1 0h2m-174 1h1m1 0h2m1 0h1m6 0h1m8 0h2m23 0h3m31 0h1m2 0h1m3 0h1m1 0h1m1 0h2m1 0h1m3 0h1m3 0h1m3 0h1m5 0h11m1 0h4m1 0h5m1 0h2m1 0h7m2 0h4m1 0h2m1 0h5m2 0h1m1 0h3m1 0h5m7 0h1m6 0h2m-192 1h2m1 0h1m7 0h1m8 0h1m2 0h1m10 0h1m5 0h2m1 0h1m2 0h1m12 0h1m14 0h1m4 0h1m2 0h2m1 0h2m1 0h1m7 0h5m5 0h1m2 0h1m1 0h1m1 0h9m1 0h13m1 0h5m2 0h2m1 0h2m1 0h9m1 0h3m1 0h2m1 0h3m1 0h4m1 0h1m6 0h1m1 0h1m-182 1h2m17 0h1m20 0h1m25 0h1m3 0h1m3 0h1m1 0h1m1 0h1m5 0h1m1 0h1m1 0h3m1 0h1m1 0h3m6 0h2m1 0h1m1 0h1m1 0h2m1 0h1m2 0h5m1 0h4m2 0h8m1 0h3m2 0h2m1 0h2m3 0h1m1 0h1m1 0h1m1 0h1m3 0h3m1 0h5m3 0h1m4 0h1m5 0h1m-183 1h1m5 0h1m17 0h1m11 0h1m2 0h1m4 0h1m5 0h1m15 0h1m2 0h2m2 0h1m1 0h2m2 0h1m1 0h1m1 0h1m4 0h1m3 0h2m4 0h1m2 0h3m1 0h2m1 0h4m2 0h4m1 0h3m1 0h16m2 0h1m1 0h4m3 0h1m1 0h1m1 0h4m1 0h1m2 0h4m1 0h1m3 0h1m-175 1h1m1 0h1m36 0h1m1 0h1m5 0h1m3 0h1m6 0h1m11 0h1m1 0h1m2 0h2m2 0h3m2 0h1m1 0h2m1 0h1m1 0h1m8 0h1m1 0h5m1 0h1m1 0h8m1 0h2m1 0h9m1 0h6m1 0h4m1 0h2m2 0h2m2 0h2m1 0h7m1 0h4m2 0h1m2 0h1m2 0h1m2 0h1m-177 1h1m20 0h1m7 0h1m5 0h1m22 0h1m1 0h1m4 0h2m1 0h1m7 0h5m4 0h2m6 0h1m5 0h15m1 0h6m2 0h4m1 0h6m2 0h4m1 0h2m1 0h1m1 0h8m1 0h1m1 0h2m1 0h2m5 0h1m11 0h1m-180 1h2m27 0h2m1 0h1m1 0h1m18 0h1m9 0h1m1 0h1m2 0h1m6 0h2m6 0h1m3 0h1m7 0h7m1 0h5m1 0h8m1 0h14m1 0h2m1 0h3m1 0h11m1 0h2m1 0h2m1 0h1m1 0h2m1 0h1m10 0h1m3 0h2m-184 1h1m1 0h2m3 0h1m8 0h1m10 0h1m7 0h1m18 0h1m6 0h1m2 0h2m4 0h1m3 0h1m4 0h1m2 0h1m2 0h1m9 0h1m1 0h1m2 0h1m1 0h1m1 0h11m1 0h7m1 0h5m2 0h6m2 0h2m1 0h6m1 0h8m1 0h1m1 0h3m2 0h1m-167 1h1m3 0h1m2 0h1m20 0h1m19 0h1m10 0h1m1 0h1m6 0h2m3 0h1m12 0h1m1 0h1m1 0h5m1 0h8m1 0h6m1 0h2m2 0h1m1 0h9m1 0h6m3 0h9m1 0h4m3 0h3m2 0h1m1 0h1m-155 1h1m15 0h1m1 0h1m12 0h1m13 0h1m3 0h2m2 0h2m2 0h2m2 0h1m3 0h1m12 0h1m2 0h1m1 0h22m1 0h7m1 0h10m1 0h7m2 0h1m1 0h2m1 0h3m1 0h1m1 0h1m2 0h3m2 0h1m8 0h1m8 0h1m-181 1h1m2 0h1m1 0h2m11 0h2m4 0h1m10 0h1m12 0h1m4 0h2m7 0h2m9 0h1m11 0h1m1 0h1m1 0h4m1 0h6m1 0h4m1 0h28m1 0h1m3 0h2m1 0h4m1 0h2m1 0h5m1 0h1m1 0h2m3 0h2m4 0h1m5 0h1m-173 1h1m15 0h2m3 0h1m16 0h1m1 0h1m1 0h1m3 0h1m4 0h1m4 0h2m1 0h2m1 0h1m12 0h1m4 0h1m1 0h1m1 0h4m1 0h6m1 0h1m1 0h13m2 0h1m3 0h1m1 0h5m1 0h3m2 0h8m3 0h2m1 0h8m2 0h3m13 0h1m3 0h2m-180 1h1m27 0h1m1 0h1m17 0h1m3 0h1m1 0h1m1 0h1m2 0h1m1 0h1m19 0h1m1 0h1m1 0h2m1 0h1m1 0h7m1 0h4m1 0h6m1 0h1m1 0h2m1 0h3m1 0h7m1 0h1m2 0h5m1 0h5m2 0h1m1 0h6m3 0h1m1 0h3m3 0h1m10 0h1m-176 1h1m1 0h1m1 0h2m13 0h1m2 0h1m2 0h2m21 0h1m1 0h1m2 0h1m1 0h1m1 0h2m3 0h1m1 0h2m5 0h2m2 0h2m2 0h1m3 0h4m1 0h2m1 0h18m1 0h2m1 0h1m1 0h8m1 0h4m1 0h5m2 0h2m2 0h1m2 0h2m1 0h3m1 0h3m2 0h3m12 0h1m-171 1h2m1 0h1m1 0h1m2 0h1m12 0h1m19 0h1m6 0h1m2 0h3m1 0h1m2 0h1m8 0h1m1 0h2m5 0h7m1 0h3m1 0h6m1 0h3m1 0h5m1 0h7m1 0h14m1 0h5m1 0h2m1 0h4m1 0h4m2 0h1m1 0h2m2 0h1m8 0h1m-161 1h1m18 0h1m3 0h1m13 0h1m2 0h1m1 0h1m4 0h2m3 0h1m4 0h1m12 0h4m1 0h2m1 0h1m2 0h2m1 0h4m1 0h3m1 0h5m1 0h31m1 0h1m2 0h5m2 0h2m1 0h4m1 0h3m10 0h1m-165 1h1m2 0h2m11 0h1m2 0h1m11 0h1m7 0h1m1 0h5m7 0h1m1 0h1m6 0h3m4 0h1m1 0h6m2 0h4m1 0h5m1 0h2m1 0h3m1 0h6m1 0h1m1 0h14m1 0h6m1 0h4m1 0h8m1 0h2m2 0h2m-147 1h1m14 0h1m17 0h2m3 0h3m4 0h3m1 0h1m9 0h1m4 0h2m1 0h6m1 0h1m1 0h4m2 0h4m1 0h2m1 0h2m2 0h4m2 0h2m1 0h1m1 0h3m1 0h1m2 0h3m1 0h6m2 0h4m2 0h2m1 0h5m1 0h3m1 0h3m1 0h1m9 0h2m4 0h1m-164 1h4m5 0h2m4 0h1m15 0h1m3 0h1m2 0h1m1 0h1m1 0h1m3 0h1m2 0h1m10 0h5m2 0h3m1 0h6m1 0h5m1 0h9m1 0h1m1 0h2m1 0h1m1 0h5m1 0h4m2 0h1m2 0h4m1 0h4m3 0h4m2 0h1m1 0h4m9 0h2m2 0h1m4 0h1m-158 1h1m1 0h1m2 0h1m20 0h1m3 0h2m2 0h1m4 0h1m1 0h1m3 0h1m4 0h1m4 0h1m1 0h5m1 0h3m1 0h12m2 0h3m1 0h4m1 0h2m1 0h3m1 0h11m1 0h2m1 0h9m2 0h3m1 0h2m3 0h5m2 0h1m7 0h1m-156 1h1m5 0h1m1 0h1m20 0h1m2 0h1m3 0h1m2 0h2m3 0h1m11 0h2m3 0h1m1 0h3m1 0h6m1 0h2m1 0h9m1 0h20m1 0h6m1 0h3m1 0h5m1 0h2m3 0h1m2 0h1m2 0h1m3 0h1m8 0h1m1 0h1m-149 1h2m12 0h1m1 0h1m2 0h1m1 0h1m8 0h1m1 0h1m1 0h1m2 0h1m5 0h4m3 0h1m1 0h2m3 0h10m1 0h3m1 0h1m1 0h3m1 0h30m1 0h4m1 0h13m1 0h6m1 0h1m2 0h3m-142 1h1m7 0h1m6 0h1m14 0h1m4 0h1m13 0h2m1 0h2m2 0h6m1 0h2m1 0h2m1 0h2m2 0h4m1 0h9m1 0h7m1 0h10m1 0h2m2 0h2m1 0h2m1 0h6m1 0h3m1 0h2m4 0h1m6 0h1m15 0h1m-158 1h1m6 0h1m2 0h1m1 0h1m12 0h2m3 0h1m1 0h1m6 0h3m1 0h1m2 0h1m2 0h1m2 0h18m1 0h1m1 0h1m1 0h7m1 0h6m1 0h1m1 0h2m1 0h4m1 0h2m1 0h10m2 0h8m1 0h3m1 0h2m5 0h1m6 0h1m12 0h1m-158 1h1m8 0h1m22 0h2m2 0h1m8 0h2m1 0h1m1 0h11m1 0h3m1 0h4m1 0h29m1 0h3m1 0h10m1 0h2m1 0h3m2 0h1m1 0h1m2 0h1m1 0h1m9 0h1m6 0h1m-146 1h1m24 0h1m2 0h1m2 0h2m10 0h1m1 0h2m1 0h25m1 0h20m1 0h3m1 0h3m1 0h4m4 0h4m1 0h2m1 0h2m9 0h1m-132 1h1m18 0h2m13 0h1m3 0h3m1 0h18m1 0h16m1 0h1m1 0h1m1 0h6m1 0h3m2 0h6m1 0h9m2 0h2m1 0h3m1 0h1m2 0h1m3 0h1m16 0h1m-139 1h1m12 0h5m1 0h1m3 0h1m7 0h1m2 0h1m1 0h11m2 0h16m1 0h5m1 0h9m1 0h10m1 0h5m1 0h5m1 0h1m1 0h4m4 0h1m6 0h1m-124 1h1m1 0h1m4 0h1m5 0h3m9 0h1m2 0h1m2 0h2m1 0h2m1 0h6m1 0h2m1 0h3m1 0h7m1 0h11m2 0h9m1 0h7m1 0h4m2 0h5m1 0h1m1 0h4m2 0h1m3 0h1m4 0h2m5 0h1m7 0h1m-139 1h1m1 0h1m10 0h1m1 0h3m1 0h1m1 0h1m3 0h2m1 0h1m4 0h1m1 0h20m1 0h4m1 0h4m2 0h3m1 0h18m1 0h2m1 0h5m1 0h1m2 0h2m1 0h6m13 0h1m-128 1h1m15 0h1m4 0h3m6 0h1m1 0h3m1 0h2m1 0h5m2 0h9m1 0h10m2 0h3m1 0h12m1 0h5m1 0h5m2 0h3m1 0h3m2 0h1m1 0h3m-109 1h1m1 0h1m11 0h1m6 0h3m4 0h9m1 0h8m1 0h3m1 0h9m2 0h1m1 0h6m1 0h10m1 0h5m2 0h2m1 0h1m1 0h5m1 0h2m-102 1h1m3 0h1m9 0h2m4 0h1m1 0h1m2 0h3m1 0h3m1 0h4m1 0h1m1 0h16m2 0h1m1 0h1m1 0h1m1 0h7m1 0h2m1 0h1m1 0h5m1 0h1m1 0h2m1 0h8m1 0h1m4 0h1m3 0h1m5 0h2m-102 1h3m2 0h1m6 0h10m1 0h2m1 0h14m1 0h8m1 0h10m1 0h4m1 0h1m1 0h2m2 0h8m1 0h1m1 0h1m2 0h1m6 0h1m11 0h1m-111 1h1m1 0h2m10 0h7m1 0h5m2 0h14m1 0h1m1 0h8m1 0h7m1 0h8m1 0h1m2 0h8m1 0h1m2 0h1m-96 1h1m11 0h1m5 0h1m3 0h5m1 0h7m1 0h5m2 0h14m1 0h5m1 0h16m2 0h1m1 0h4m2 0h1m1 0h3m16 0h2m-112 1h2m8 0h1m3 0h1m1 0h2m1 0h27m1 0h6m1 0h1m1 0h10m2 0h5m3 0h3m1 0h1m3 0h1m-86 1h1m8 0h2m8 0h1m1 0h7m1 0h19m1 0h3m2 0h17m1 0h9m3 0h1m4 0h2m-93 1h1m8 0h4m7 0h9m1 0h39m1 0h1m1 0h5m7 0h5m13 0h1m1 0h1m-103 1h1m3 0h2m3 0h1m2 0h1m4 0h1m3 0h2m1 0h2m1 0h22m1 0h7m1 0h2m1 0h6m1 0h1m1 0h2m5 0h1m1 0h1m8 0h1m7 0h1m-97 1h1m1 0h1m2 0h1m1 0h1m7 0h1m2 0h19m1 0h4m1 0h13m2 0h6m1 0h2m1 0h1m4 0h2m16 0h3m-94 1h2m1 0h3m3 0h2m2 0h1m2 0h19m1 0h3m1 0h8m1 0h1m2 0h12m1 0h1m15 0h2m-84 1h3m3 0h1m1 0h1m4 0h3m3 0h1m1 0h3m1 0h2m1 0h16m1 0h10m2 0h2m1 0h1m1 0h2m7 0h1m6 0h1m-78 1h2m9 0h5m1 0h4m1 0h1m1 0h22m1 0h2m1 0h9m22 0h1m-81 1h1m1 0h1m1 0h1m4 0h3m1 0h16m1 0h11m1 0h9m1 0h2m3 0h1m-59 1h2m1 0h2m2 0h1m1 0h1m1 0h25m1 0h7m1 0h2m1 0h2m7 0h2m13 0h2m-75 1h1m6 0h1m1 0h9m1 0h14m1 0h6m2 0h6m2 0h1m4 0h2m8 0h1m-66 1h4m2 0h4m1 0h11m1 0h1m1 0h9m2 0h7m1 0h1m2 0h1m5 0h1m1 0h1m7 0h1m-64 1h3m3 0h4m1 0h17m1 0h10m1 0h3m1 0h1m9 0h1m4 0h2m1 0h1m-61 1h1m4 0h4m1 0h18m1 0h7m1 0h1m7 0h1m8 0h1m-56 1h2m2 0h3m1 0h5m1 0h6m1 0h4m1 0h1m1 0h3m1 0h2m8 0h1m-43 1h1m3 0h12m1 0h5m1 0h1m2 0h3m2 0h3m1 0h2m6 0h1m3 0h1m1 0h1m-50 1h2m2 0h16m1 0h1m1 0h3m1 0h1m1 0h1m-31 1h1m1 0h22m1 0h3m1 0h1m3 0h1m9 0h1m-44 1h17m1 0h6m2 0h1m13 0h1m-41 1h19m1 0h3m3 0h1m7 0h1m-36 1h8m1 0h12m2 0h1m2 0h1m9 0h1m-36 1h6m1 0h4m1 0h9m-21 1h17m1 0h1m2 0h1m1 0h1m4 0h1m-29 1h11m1 0h3m1 0h1m3 0h1m-21 1h8m1 0h5m4 0h1m-19 1h14m3 0h3m-20 1h11m1 0h1m5 0h1m-19 1h10m-10 1h9m3 0h1m-13 1h8m1 0h1m-10 1h7m1 0h1m-9 1h6m3 0h1m-11 1h8m2 0h1m-11 1h6m-6 1h6m2 0h1m-9 1h5m2 0h1m-8 1h3m-3 1h3m-3 1h3m2 0h1m-6 1h4m-4 1h5m-5 1h3m-3 1h4m-4 1h4m-4 1h3m-3 1h3m-3 2h1" stroke="#ff8080" stroke-width="1" fill="none"/>
<path d="M707.2 473.4L707.4 469.4L707.8 465.4L708.6 461.5L709.3 457.6L710.3 453.7L711.5 449.9L712.9 446.2L714.6 442.7L716.6 439.3L719 436.1L721.5 433.1L724.3 430.3L727.4 427.8L730.6 425.4L733.9 423.3L737.4 421.3L740.9 419.5L744.6 417.9L748.3 416.4L752 415L755.8 413.7L759.6 412.4L763.4 411.2L767.2 409.9L771 408.6L774.7 407.3L778.5 406L782.3 404.7L786.1 403.4L789.9 402.2L793.7 401.1L797.6 399.9L801.4 398.9L805.3 397.8L809.2 396.8L813 395.8L816.9 394.8L820.8 393.9L824.7 392.9L828.5 391.8L832.4 390.8L836.3 389.8L840.1 388.9L844 387.9L847.9 387L851.8 386L855.7 385.1L859.6 384.2L863.5 383.3L867.4 382.4L871.3 381.5L875.2 380.6L879.1 379.7L883 378.8L886.9 377.9L890.8 377L894.7 376.1L898.6 375.2L902.5 374.3L906.4 373.4L910.2 372.4L914.1 371.4L918 370.4L921.8 369.3L925.7 368.3L929.6 367.3L933.5 366.4L937.3 365.5L941.3 364.6L945.2 363.7L949.1 362.9L953 362L956.9 361.1L960.8 360.2L964.6 359.2L968.5 358.2L972.4 357.2L976.2 356.1L980.1 355.1L983.9 354L987.8 352.8L991.6 351.7L995.4 350.5L999.2 349.3L1003 348L1006.8 346.7L1010.6 345.4L1014.4 344.1L1018.1 342.7L1021.9 341.3L1025.6 339.8L1029.3 338.2L1032.9 336.7L1036.6 335L1040.2 333.3L1043.8 331.5L1047.3 329.6L1050.8 327.7L1054.3 325.8L1057.8 323.8L1061.2 321.7L1064.6 319.6L1067.9 317.4L1071.2 315.1L1074.5 312.8L1077.7 310.4L1080.8 307.9L1083.8 305.3L1086.7 302.5L1089.3 299.6L1091.8 296.5L1094 293.2L1096 289.8L1097.7 286.2L1099.2 282.6L1100.6 278.8L1101.8 275L1102.9 271.2L1103.8 267.3L1104.7 263.4L1105.4 259.4L1106 255.5L1106.4 251.5L1106.8 247.5L1107.2 243.6L1107.4 239.6L1107.6 235.6L1107.8 231.6L1108 227.6L1108.2 223.6L1108.4 219.6L1108.6 216L1108.9 211.6L1109.1 207.6L1109.2 206.6" stroke="#0000ff" stroke-width="2.1" fill="none" stroke-linejoin="round"/>
<path d="M1109.4 204V180" stroke="#0000ff" stroke-width="2.4" stroke-dasharray="5 3" fill="none"/>
<path d="M707.2 454.6L707.3 450.6L707.4 446.6L707.7 442.6L708 438.6L708.4 434.6L709 430.7L709.7 426.8L710.7 422.9L711.8 419.1L713.2 415.4L714.8 411.8L716.6 408.2L718.7 404.8L720.9 401.5L723.3 398.3L725.8 395.3L728.6 392.4L731.4 389.6L734.4 387L737.5 384.4L740.6 381.9L743.8 379.5L747.1 377.3L750.5 375.1L753.9 373.1L757.4 371.2L761 369.4L764.6 367.7L768.3 366.1L772 364.5L775.7 363L779.4 361.6L783.1 360.1L786.9 358.7L790.6 357.4L794.4 356.1L798.2 354.9L802 353.7L805.9 352.5L809.7 351.4L813.5 350.3L817.4 349.1L821.2 348L825 346.9L828.9 345.7L832.7 344.6L836.5 343.4L840.4 342.3L844.2 341.1L848 340L851.9 338.8L855.7 337.7L859.5 336.5L863.4 335.4L867.2 334.2L871 333.1L874.8 331.9L878.7 330.8L882.5 329.6L886.4 328.6L890.2 327.5L894.1 326.5L898 325.4L901.8 324.4L905.7 323.3L909.5 322L913.2 320.7L916.9 319.3L920.6 317.8L924.3 316.2L928 314.7L931.7 313.2L935.4 311.7L939.2 310.4L942.9 309L946.7 307.7L950.5 306.5L954.3 305.2L958.1 303.9L961.9 302.6L965.7 301.4L969.5 300.1L973.3 298.8L977.1 297.5L980.9 296.2L984.6 294.8L988.3 293.4L992 291.9L995.7 290.3L999.3 288.6L1002.9 286.9L1006.5 285.1L1010 283.2L1013.6 281.3L1017.1 279.4L1020.5 277.4L1024 275.4L1027.4 273.3L1030.8 271.2L1034.2 269L1037.5 266.7L1040.7 264.4L1043.8 261.9L1046.8 259.3L1049.8 256.6L1052.7 253.9L1055.6 251.1L1058.5 248.4L1061.5 245.7L1064.4 243L1067.4 240.3L1070.3 237.5L1073.2 234.8L1076 232L1078.8 229.1L1081.5 226.2L1084.2 223.2L1086.7 220.1L1089.2 217L1091.6 213.8L1093.9 210.5L1096 207.1L1097.8 203.6L1099.3 200.1L1100.6 196.4L1101.5 192.6L1102.2 188.8L1102.6 185L1103.2 180.9L1103.4 176.8L1103.4 173.8" stroke="#ff0000" stroke-width="2.1" fill="none" stroke-linejoin="round"/>
<path d="M1103.6 172V158" stroke="#ff0000" stroke-width="2" stroke-dasharray="3 3" fill="none"/>
<path d="M1103.4 120L1105.5 112L1108 100L1109.5 88" stroke="#ff0000" stroke-width="2.4" fill="none" stroke-linejoin="round"/>
<path d="M1110 86V64" stroke="#ff0000" stroke-width="2.2" stroke-dasharray="4 9 3 8" fill="none"/>
<path d="M706.5 454.5h3M706.5 445.5h3" stroke="#ff0000" stroke-width="3.4" fill="none"/>
<path d="M705.8 467h3.2M705.8 473.6h3.2" stroke="#0000ff" stroke-width="2.6" fill="none"/>
<circle cx="724" cy="90.7" r="6" fill="#0000ff"/>
<circle cx="724" cy="125" r="6" fill="#ff0000"/>
<circle cx="724" cy="158.9" r="6" fill="#ff8080"/>
<text x="755" y="99.8" font-size="22.8">sorted by mean</text>
<text x="755" y="133.8" font-size="22.8">sorted by min</text>
<text x="755" y="168.5" font-size="22.8">min while sorted by mean</text>
<rect x="695.6" y="673.3" width="443.2" height="442.9" fill="none" stroke="#000" stroke-width="3"/>
<path d="M717 1116.2L717 1108.9M717 673.3L717 680.6M742.4 1116.2L742.4 1112M742.4 673.3L742.4 677.5M767.7 1116.2L767.7 1112M767.7 673.3L767.7 677.5M793.1 1116.2L793.1 1112M793.1 673.3L793.1 677.5M818.4 1116.2L818.4 1108.9M818.4 673.3L818.4 680.6M843.8 1116.2L843.8 1112M843.8 673.3L843.8 677.5M869.2 1116.2L869.2 1112M869.2 673.3L869.2 677.5M894.5 1116.2L894.5 1112M894.5 673.3L894.5 677.5M919.9 1116.2L919.9 1108.9M919.9 673.3L919.9 680.6M945.2 1116.2L945.2 1112M945.2 673.3L945.2 677.5M970.6 1116.2L970.6 1112M970.6 673.3L970.6 677.5M996 1116.2L996 1112M996 673.3L996 677.5M1021.3 1116.2L1021.3 1108.9M1021.3 673.3L1021.3 680.6M1046.7 1116.2L1046.7 1112M1046.7 673.3L1046.7 677.5M1072 1116.2L1072 1112M1072 673.3L1072 677.5M1097.4 1116.2L1097.4 1112M1097.4 673.3L1097.4 677.5M1122.8 1116.2L1122.8 1108.9M1122.8 673.3L1122.8 680.6M695.6 1108.2L699.8 1108.2M1138.8 1108.2L1134.6 1108.2M695.6 1093.9L699.8 1093.9M1138.8 1093.9L1134.6 1093.9M695.6 1079.7L699.8 1079.7M1138.8 1079.7L1134.6 1079.7M695.6 1065.4L699.8 1065.4M1138.8 1065.4L1134.6 1065.4M695.6 1051.2L702.9 1051.2M1138.8 1051.2L1131.5 1051.2M695.6 1037L699.8 1037M1138.8 1037L1134.6 1037M695.6 1022.7L699.8 1022.7M1138.8 1022.7L1134.6 1022.7M695.6 1008.5L699.8 1008.5M1138.8 1008.5L1134.6 1008.5M695.6 994.2L699.8 994.2M1138.8 994.2L1134.6 994.2M695.6 980L702.9 980M1138.8 980L1131.5 980M695.6 965.8L699.8 965.8M1138.8 965.8L1134.6 965.8M695.6 951.5L699.8 951.5M1138.8 951.5L1134.6 951.5M695.6 937.3L699.8 937.3M1138.8 937.3L1134.6 937.3M695.6 923L699.8 923M1138.8 923L1134.6 923M695.6 908.8L702.9 908.8M1138.8 908.8L1131.5 908.8M695.6 894.6L699.8 894.6M1138.8 894.6L1134.6 894.6M695.6 880.3L699.8 880.3M1138.8 880.3L1134.6 880.3M695.6 866.1L699.8 866.1M1138.8 866.1L1134.6 866.1M695.6 851.8L699.8 851.8M1138.8 851.8L1134.6 851.8M695.6 837.6L702.9 837.6M1138.8 837.6L1131.5 837.6M695.6 823.4L699.8 823.4M1138.8 823.4L1134.6 823.4M695.6 809.1L699.8 809.1M1138.8 809.1L1134.6 809.1M695.6 794.9L699.8 794.9M1138.8 794.9L1134.6 794.9M695.6 780.6L699.8 780.6M1138.8 780.6L1134.6 780.6M695.6 766.4L702.9 766.4M1138.8 766.4L1131.5 766.4M695.6 752.2L699.8 752.2M1138.8 752.2L1134.6 752.2M695.6 737.9L699.8 737.9M1138.8 737.9L1134.6 737.9M695.6 723.7L699.8 723.7M1138.8 723.7L1134.6 723.7M695.6 709.4L699.8 709.4M1138.8 709.4L1134.6 709.4M695.6 695.2L702.9 695.2M1138.8 695.2L1131.5 695.2M695.6 681L699.8 681M1138.8 681L1134.6 681" stroke="#000" stroke-width="2.7" fill="none"/>
<text x="585.2" y="654.6" font-size="35" font-weight="bold">(d)</text>
<text x="687.3" y="1061" font-size="24.9" text-anchor="end">0.10</text>
<text x="687.3" y="989.8" font-size="24.9" text-anchor="end">0.15</text>
<text x="687.3" y="918.6" font-size="24.9" text-anchor="end">0.20</text>
<text x="687.3" y="847.4" font-size="24.9" text-anchor="end">0.25</text>
<text x="687.3" y="776.2" font-size="24.9" text-anchor="end">0.30</text>
<text x="687.3" y="705" font-size="24.9" text-anchor="end">0.35</text>
<text x="717" y="1150.5" font-size="24.9" text-anchor="middle">0</text>
<text x="818.4" y="1150.5" font-size="24.9" text-anchor="middle">2000</text>
<text x="919.9" y="1150.5" font-size="24.9" text-anchor="middle">4000</text>
<text x="1021.3" y="1150.5" font-size="24.9" text-anchor="middle">6000</text>
<text x="1122.8" y="1150.5" font-size="24.9" text-anchor="middle">8000</text>
<text x="917" y="1196" font-size="25" text-anchor="middle">Sorted Chain Pairs</text>
<text x="620.1" y="895.5" font-size="25.8" text-anchor="middle" transform="rotate(-90 620.1 895.5)">Correlation</text>
<path transform="scale(1.8)" d="M399 407h1m2 1h1m-3 1h1m-2 2h1m0 1h1m-2 1h3m-3 1h2m8 0h1m-11 1h2m-2 1h2m-2 1h1m1 0h1m-3 1h2m9 0h1m-12 1h3m7 0h1m-11 1h2m-2 1h3m12 0h1m1 0h1m-18 1h4m8 0h1m5 0h1m-19 1h4m12 0h2m-18 1h3m1 0h1m6 0h1m7 0h1m-20 1h6m4 0h2m5 0h1m-18 1h3m2 0h2m7 0h1m-15 1h4m2 0h2m2 0h1m4 0h2m15 0h1m-33 1h3m1 0h4m2 0h1m3 0h2m7 0h2m-25 1h7m1 0h2m4 0h2m1 0h2m5 0h1m-25 1h5m1 0h8m1 0h2m1 0h1m1 0h1m1 0h1m10 0h1m2 0h1m-37 1h9m2 0h2m3 0h4m10 0h1m-31 1h10m1 0h1m1 0h2m2 0h3m1 0h1m1 0h1m4 0h1m5 0h1m-35 1h5m1 0h4m1 0h3m1 0h1m1 0h3m2 0h2m1 0h2m5 0h1m3 0h2m-38 1h8m2 0h5m2 0h6m1 0h1m6 0h1m5 0h1m2 0h1m1 0h1m-43 1h10m1 0h3m1 0h1m5 0h1m3 0h1m1 0h1m1 0h1m4 0h4m12 0h1m-51 1h9m1 0h6m2 0h1m2 0h3m5 0h1m8 0h1m10 0h1m-49 1h4m1 0h8m1 0h1m1 0h1m4 0h1m1 0h5m12 0h1m9 0h1m5 0h1m5 0h1m8 0h1m-73 1h14m1 0h1m1 0h1m2 0h5m1 0h2m1 0h2m7 0h2m2 0h1m1 0h1m4 0h1m-50 1h15m2 0h2m1 0h2m1 0h2m1 0h1m2 0h1m1 0h3m2 0h1m1 0h1m2 0h1m4 0h1m4 0h1m2 0h1m-55 1h8m1 0h4m2 0h2m2 0h3m2 0h2m1 0h3m1 0h2m4 0h3m6 0h1m3 0h1m5 0h1m-57 1h12m1 0h5m2 0h6m1 0h1m1 0h1m5 0h1m8 0h1m1 0h1m3 0h1m1 0h1m4 0h1m2 0h1m-61 1h22m1 0h2m3 0h1m3 0h1m1 0h1m2 0h2m2 0h1m15 0h1m1 0h1m13 0h1m-74 1h10m1 0h1m1 0h5m1 0h7m3 0h6m1 0h2m1 0h1m3 0h1m1 0h1m4 0h1m4 0h1m1 0h2m1 0h1m2 0h1m3 0h1m13 0h1m6 0h1m7 0h1m-97 1h18m1 0h10m1 0h2m1 0h8m2 0h1m1 0h1m1 0h2m2 0h1m3 0h1m2 0h2m1 0h1m1 0h1m9 0h1m7 0h1m-82 1h2m1 0h2m1 0h10m2 0h17m2 0h6m1 0h3m4 0h2m2 0h2m8 0h1m1 0h1m-68 1h5m1 0h7m1 0h5m1 0h14m1 0h4m1 0h1m1 0h2m1 0h1m1 0h1m2 0h3m1 0h1m1 0h3m1 0h1m2 0h1m2 0h1m2 0h1m3 0h1m-74 1h6m1 0h10m1 0h2m1 0h6m1 0h3m1 0h3m2 0h2m3 0h1m2 0h1m2 0h2m2 0h3m1 0h1m3 0h1m1 0h1m4 0h1m3 0h1m9 0h1m6 0h2m3 0h1m-93 1h1m1 0h19m1 0h5m1 0h6m1 0h2m2 0h3m2 0h4m1 0h2m2 0h1m3 0h2m4 0h1m3 0h1m2 0h1m7 0h1m1 0h1m15 0h1m-97 1h3m1 0h8m1 0h6m1 0h21m1 0h1m6 0h6m4 0h1m1 0h1m1 0h3m5 0h1m1 0h1m10 0h1m5 0h1m3 0h1m-94 1h12m1 0h4m1 0h17m1 0h4m1 0h4m1 0h3m2 0h7m1 0h1m3 0h1m1 0h1m8 0h1m3 0h1m1 0h1m2 0h2m3 0h1m13 0h1m-104 1h2m2 0h6m1 0h21m1 0h12m1 0h8m2 0h3m2 0h3m2 0h2m1 0h2m4 0h1m6 0h1m11 0h1m4 0h1m-99 1h7m1 0h29m1 0h2m1 0h5m1 0h3m1 0h3m1 0h2m1 0h3m1 0h2m1 0h1m2 0h1m1 0h1m3 0h2m1 0h3m12 0h2m2 0h2m18 0h1m-119 1h3m1 0h6m1 0h6m1 0h8m1 0h17m1 0h3m1 0h8m3 0h3m3 0h4m1 0h1m1 0h3m3 0h1m1 0h2m1 0h1m3 0h1m2 0h1m13 0h1m-106 1h2m1 0h1m2 0h19m1 0h12m1 0h17m1 0h1m1 0h8m1 0h1m1 0h1m1 0h1m3 0h1m1 0h1m2 0h2m3 0h1m1 0h1m10 0h1m3 0h1m-102 1h1m1 0h11m1 0h28m1 0h5m2 0h10m2 0h6m2 0h1m1 0h3m1 0h2m8 0h1m3 0h1m1 0h1m1 0h1m1 0h2m12 0h2m4 0h1m1 0h1m5 0h1m15 0h1m-142 1h2m3 0h2m1 0h2m2 0h7m1 0h1m1 0h22m1 0h6m1 0h15m1 0h4m1 0h3m1 0h6m2 0h3m1 0h3m1 0h2m1 0h2m2 0h1m2 0h1m17 0h1m1 0h1m14 0h1m-139 1h1m2 0h8m2 0h5m1 0h3m2 0h2m1 0h9m1 0h18m2 0h8m1 0h2m1 0h2m3 0h8m1 0h2m1 0h1m2 0h2m1 0h2m1 0h3m6 0h1m2 0h3m4 0h2m17 0h1m-134 1h2m1 0h1m1 0h1m3 0h1m1 0h2m1 0h28m2 0h3m1 0h11m1 0h3m1 0h1m1 0h1m1 0h10m2 0h4m1 0h1m1 0h2m1 0h1m2 0h1m1 0h1m1 0h1m3 0h1m1 0h1m2 0h1m1 0h2m5 0h1m22 0h1m-140 1h3m1 0h2m1 0h2m1 0h3m1 0h14m1 0h4m1 0h3m1 0h5m1 0h2m1 0h24m1 0h1m1 0h6m1 0h1m1 0h6m2 0h1m3 0h2m5 0h1m3 0h1m1 0h1m2 0h1m1 0h1m3 0h1m4 0h1m5 0h1m-128 1h1m6 0h2m2 0h3m1 0h4m1 0h50m2 0h3m1 0h3m2 0h3m1 0h4m1 0h1m3 0h4m1 0h1m1 0h4m1 0h1m1 0h1m2 0h1m3 0h1m1 0h1m3 0h1m-121 1h1m8 0h4m1 0h9m1 0h7m1 0h4m1 0h7m1 0h14m1 0h4m2 0h11m1 0h9m1 0h6m1 0h1m1 0h2m2 0h3m4 0h1m1 0h3m2 0h1m8 0h2m4 0h1m1 0h1m9 0h1m18 0h1m-158 1h1m3 0h1m2 0h4m1 0h2m1 0h1m1 0h2m1 0h8m1 0h3m1 0h4m2 0h3m1 0h7m1 0h4m1 0h11m1 0h10m1 0h5m1 0h1m1 0h1m1 0h2m2 0h2m2 0h2m1 0h1m1 0h1m2 0h1m3 0h1m1 0h2m2 0h1m17 0h1m-138 1h4m5 0h4m1 0h2m1 0h2m1 0h3m1 0h3m2 0h5m1 0h3m1 0h8m1 0h8m1 0h19m1 0h6m2 0h2m1 0h7m2 0h2m1 0h2m2 0h2m1 0h2m2 0h1m2 0h2m2 0h1m3 0h2m3 0h1m5 0h2m8 0h1m15 0h1m7 0h1m-162 1h1m1 0h3m2 0h5m4 0h5m1 0h1m1 0h12m1 0h6m1 0h13m1 0h15m1 0h2m1 0h14m2 0h4m1 0h7m1 0h2m2 0h1m1 0h2m1 0h3m2 0h1m7 0h1m1 0h1m-136 1h1m4 0h3m2 0h2m3 0h4m1 0h3m2 0h4m1 0h1m1 0h8m1 0h2m2 0h14m1 0h6m1 0h23m1 0h2m1 0h2m1 0h1m2 0h1m1 0h2m1 0h2m5 0h1m1 0h2m1 0h3m1 0h2m6 0h1m2 0h1m1 0h2m4 0h1m17 0h1m2 0h1m11 0h1m-168 1h1m3 0h2m3 0h1m1 0h4m1 0h3m1 0h11m1 0h9m1 0h39m1 0h5m1 0h4m3 0h3m2 0h1m2 0h5m2 0h3m1 0h1m6 0h2m4 0h1m5 0h2m-138 1h4m1 0h1m3 0h2m2 0h2m1 0h4m1 0h3m2 0h4m1 0h4m1 0h3m2 0h5m1 0h29m1 0h8m2 0h1m1 0h2m2 0h2m1 0h10m1 0h7m1 0h2m2 0h2m2 0h1m1 0h1m6 0h1m1 0h1m3 0h1m1 0h2m3 0h2m-145 1h1m4 0h2m1 0h2m1 0h2m1 0h1m2 0h2m1 0h1m2 0h5m2 0h2m3 0h8m1 0h10m1 0h6m1 0h7m1 0h2m1 0h22m1 0h4m1 0h3m1 0h7m1 0h2m1 0h3m1 0h3m1 0h1m10 0h1m7 0h2m1 0h1m1 0h1m1 0h1m2 0h1m-149 1h1m2 0h3m1 0h2m2 0h1m2 0h3m4 0h1m1 0h2m2 0h1m1 0h1m1 0h3m2 0h4m1 0h11m1 0h3m1 0h1m1 0h12m2 0h21m1 0h13m1 0h2m1 0h1m1 0h1m5 0h2m1 0h1m4 0h2m1 0h1m3 0h1m3 0h1m22 0h1m-159 1h1m5 0h1m1 0h1m1 0h1m3 0h1m1 0h1m1 0h2m1 0h2m2 0h7m1 0h7m1 0h2m1 0h3m1 0h7m1 0h13m1 0h16m1 0h7m1 0h1m1 0h1m1 0h8m1 0h1m2 0h5m3 0h1m1 0h1m2 0h2m2 0h1m1 0h2m6 0h1m-146 1h1m1 0h2m11 0h2m1 0h1m2 0h2m1 0h1m3 0h2m3 0h2m3 0h9m1 0h36m1 0h14m1 0h6m1 0h1m2 0h1m1 0h7m1 0h1m2 0h2m1 0h1m3 0h2m2 0h1m1 0h2m2 0h1m5 0h1m4 0h1m2 0h1m4 0h1m11 0h1m-162 1h1m1 0h1m4 0h2m1 0h1m2 0h1m1 0h1m4 0h2m1 0h4m1 0h2m1 0h5m1 0h19m1 0h9m1 0h6m1 0h12m1 0h3m3 0h8m1 0h1m2 0h6m1 0h1m2 0h2m1 0h5m4 0h3m11 0h1m3 0h1m-139 1h1m1 0h1m4 0h1m2 0h2m1 0h1m1 0h1m1 0h1m1 0h1m1 0h4m2 0h5m1 0h2m1 0h2m1 0h1m1 0h8m1 0h1m1 0h4m1 0h25m1 0h1m1 0h3m1 0h7m1 0h2m2 0h2m1 0h9m1 0h1m1 0h1m2 0h1m2 0h1m1 0h2m1 0h4m1 0h1m1 0h1m3 0h2m7 0h1m-161 1h1m5 0h1m13 0h1m1 0h1m1 0h1m1 0h2m4 0h4m1 0h7m1 0h3m3 0h2m1 0h1m1 0h1m1 0h4m1 0h3m1 0h2m1 0h2m1 0h39m2 0h1m2 0h5m1 0h3m1 0h2m1 0h2m1 0h3m3 0h2m3 0h1m1 0h1m1 0h1m2 0h1m2 0h1m-162 1h1m3 0h1m3 0h1m3 0h1m10 0h1m1 0h1m4 0h1m4 0h1m1 0h1m5 0h1m1 0h1m1 0h7m1 0h2m1 0h1m1 0h10m1 0h3m2 0h2m1 0h22m1 0h25m2 0h4m1 0h1m1 0h1m1 0h3m1 0h2m1 0h3m1 0h1m1 0h1m1 0h1m1 0h1m1 0h1m25 0h1m-187 1h1m8 0h1m9 0h1m10 0h1m6 0h1m1 0h2m3 0h1m4 0h1m3 0h3m1 0h2m2 0h1m1 0h2m1 0h3m1 0h5m1 0h26m1 0h11m1 0h1m1 0h9m1 0h1m1 0h1m1 0h2m1 0h2m1 0h11m1 0h3m1 0h1m3 0h3m4 0h1m2 0h2m-161 1h1m8 0h2m1 0h1m2 0h2m1 0h1m12 0h1m3 0h2m3 0h2m1 0h1m1 0h1m1 0h1m1 0h5m1 0h1m3 0h3m1 0h2m1 0h2m1 0h4m1 0h1m1 0h6m1 0h2m1 0h5m1 0h31m1 0h3m1 0h4m2 0h5m2 0h1m1 0h1m1 0h1m2 0h1m1 0h1m1 0h1m1 0h2m4 0h1m-155 1h1m4 0h1m1 0h1m1 0h1m5 0h3m1 0h1m1 0h1m7 0h1m1 0h1m12 0h7m2 0h1m1 0h2m1 0h1m1 0h2m1 0h3m1 0h3m1 0h20m1 0h3m1 0h6m2 0h1m1 0h13m1 0h3m1 0h3m1 0h3m1 0h4m2 0h1m1 0h2m1 0h2m3 0h6m1 0h1m2 0h1m3 0h2m5 0h1m-179 1h1m15 0h2m4 0h1m4 0h1m4 0h2m1 0h1m8 0h3m3 0h3m1 0h1m2 0h2m2 0h3m1 0h2m1 0h4m1 0h9m1 0h13m1 0h3m3 0h20m1 0h2m1 0h2m1 0h8m1 0h1m1 0h3m1 0h4m2 0h2m1 0h1m2 0h1m1 0h1m3 0h2m5 0h1m3 0h1m-172 1h1m6 0h2m9 0h2m1 0h2m2 0h2m9 0h1m1 0h3m7 0h1m1 0h1m3 0h1m1 0h3m1 0h1m1 0h3m2 0h12m1 0h5m1 0h12m3 0h4m1 0h17m1 0h6m1 0h2m1 0h1m1 0h2m1 0h2m1 0h3m1 0h5m1 0h2m3 0h2m2 0h2m4 0h1m3 0h1m-154 1h1m4 0h1m7 0h2m2 0h1m2 0h1m5 0h2m5 0h4m5 0h2m3 0h1m2 0h2m3 0h1m1 0h5m1 0h5m1 0h2m1 0h12m1 0h9m1 0h8m1 0h2m1 0h10m1 0h1m1 0h4m2 0h2m6 0h2m5 0h1m1 0h1m1 0h1m1 0h2m3 0h1m3 0h1m12 0h1m-192 1h1m20 0h1m1 0h2m5 0h1m2 0h2m2 0h1m5 0h3m5 0h3m1 0h5m4 0h1m3 0h1m1 0h3m1 0h5m1 0h11m1 0h7m1 0h13m1 0h8m1 0h16m1 0h3m1 0h8m1 0h2m1 0h6m2 0h2m2 0h1m1 0h2m2 0h1m4 0h1m2 0h1m4 0h1m-164 1h1m7 0h1m1 0h1m10 0h1m2 0h1m1 0h1m3 0h1m2 0h1m1 0h1m3 0h3m1 0h1m1 0h2m1 0h3m2 0h2m3 0h4m1 0h5m1 0h8m1 0h3m1 0h6m1 0h15m1 0h6m1 0h19m2 0h3m1 0h1m2 0h2m2 0h1m1 0h2m4 0h1m6 0h1m1 0h1m-169 1h1m6 0h1m1 0h1m1 0h1m8 0h1m1 0h2m3 0h1m1 0h1m1 0h1m1 0h1m10 0h2m3 0h1m1 0h1m2 0h2m3 0h8m1 0h3m2 0h1m1 0h5m1 0h7m2 0h3m1 0h2m1 0h24m1 0h16m1 0h2m1 0h4m1 0h1m3 0h3m2 0h1m4 0h1m2 0h1m-159 1h1m3 0h1m4 0h1m2 0h1m1 0h1m2 0h3m5 0h1m6 0h1m1 0h1m3 0h1m2 0h1m5 0h3m1 0h4m4 0h2m1 0h2m1 0h4m1 0h2m3 0h1m2 0h1m1 0h3m1 0h4m1 0h2m1 0h14m1 0h19m1 0h2m1 0h6m1 0h4m1 0h6m4 0h2m1 0h1m3 0h2m-169 1h1m16 0h1m10 0h1m6 0h1m2 0h1m7 0h1m1 0h1m1 0h1m1 0h2m2 0h1m2 0h1m1 0h2m2 0h8m1 0h1m1 0h2m1 0h7m1 0h3m1 0h34m1 0h6m1 0h6m2 0h1m2 0h8m2 0h6m1 0h1m2 0h2m5 0h2m-171 1h1m4 0h1m12 0h1m4 0h1m4 0h1m2 0h1m10 0h1m8 0h1m1 0h1m1 0h1m1 0h1m2 0h1m1 0h2m1 0h1m2 0h1m1 0h3m3 0h3m1 0h3m1 0h2m1 0h5m1 0h2m1 0h1m1 0h23m1 0h22m1 0h6m1 0h5m2 0h2m3 0h1m3 0h1m2 0h2m-164 1h1m5 0h1m2 0h1m9 0h1m2 0h1m3 0h1m1 0h1m6 0h1m2 0h1m5 0h1m1 0h2m2 0h1m6 0h1m1 0h1m1 0h8m1 0h1m1 0h4m2 0h2m1 0h3m1 0h6m1 0h7m1 0h3m1 0h2m1 0h7m1 0h3m1 0h15m1 0h8m1 0h3m5 0h1m1 0h1m6 0h1m2 0h1m-170 1h1m9 0h1m9 0h2m1 0h1m8 0h1m1 0h2m4 0h4m3 0h1m2 0h1m3 0h1m1 0h2m1 0h2m6 0h3m3 0h2m2 0h1m1 0h5m3 0h1m2 0h6m1 0h15m1 0h23m1 0h14m1 0h6m3 0h1m2 0h1m2 0h1m1 0h1m-179 1h1m19 0h1m24 0h3m4 0h1m4 0h1m1 0h1m2 0h3m1 0h1m5 0h1m1 0h2m1 0h2m4 0h2m1 0h1m1 0h2m3 0h2m2 0h1m4 0h4m1 0h2m1 0h2m1 0h2m1 0h2m2 0h1m1 0h6m1 0h20m1 0h2m1 0h5m1 0h10m4 0h1m3 0h1m1 0h1m-171 1h1m12 0h1m16 0h1m3 0h1m6 0h1m5 0h1m4 0h1m4 0h1m11 0h4m1 0h1m2 0h2m2 0h1m1 0h1m1 0h1m2 0h3m2 0h1m3 0h4m1 0h2m2 0h21m1 0h2m1 0h2m1 0h14m1 0h6m1 0h4m1 0h1m1 0h1m4 0h1m5 0h1m-153 1h1m8 0h1m1 0h1m7 0h1m5 0h1m5 0h1m5 0h4m1 0h1m4 0h1m5 0h1m1 0h1m1 0h1m1 0h3m1 0h1m4 0h1m1 0h2m1 0h1m1 0h1m1 0h2m2 0h7m1 0h1m1 0h5m1 0h26m1 0h6m2 0h1m3 0h4m2 0h1m2 0h1m2 0h2m-148 1h2m5 0h1m2 0h1m2 0h1m2 0h3m9 0h1m1 0h1m2 0h1m1 0h1m1 0h1m1 0h1m8 0h2m2 0h2m4 0h1m3 0h8m1 0h2m1 0h8m2 0h7m1 0h2m1 0h1m1 0h6m2 0h2m1 0h8m1 0h17m1 0h2m1 0h2m2 0h2m2 0h1m-161 1h1m2 0h1m12 0h1m6 0h1m5 0h1m3 0h1m7 0h2m7 0h1m3 0h1m6 0h2m7 0h1m1 0h4m2 0h2m2 0h2m1 0h1m3 0h3m1 0h1m1 0h6m1 0h2m1 0h2m1 0h3m1 0h9m1 0h5m1 0h14m2 0h2m1 0h2m2 0h3m3 0h2m3 0h1m1 0h1m-169 1h2m3 0h1m32 0h2m7 0h1m3 0h1m1 0h2m5 0h1m3 0h1m1 0h1m2 0h1m2 0h1m2 0h2m3 0h1m7 0h1m1 0h1m1 0h4m1 0h2m1 0h8m1 0h2m1 0h4m1 0h1m1 0h17m1 0h15m1 0h1m1 0h1m1 0h5m1 0h2m4 0h1m-160 1h1m18 0h1m14 0h1m4 0h1m5 0h1m3 0h1m1 0h1m1 0h1m2 0h2m1 0h2m4 0h1m1 0h5m5 0h1m2 0h1m5 0h4m1 0h3m3 0h1m1 0h5m2 0h4m1 0h15m1 0h22m1 0h1m2 0h6m-160 1h1m11 0h1m5 0h1m8 0h1m2 0h1m9 0h3m1 0h1m4 0h2m1 0h1m2 0h1m4 0h1m11 0h1m7 0h3m3 0h1m5 0h2m3 0h1m1 0h3m2 0h2m1 0h3m1 0h4m1 0h9m1 0h25m2 0h2m1 0h1m1 0h1m-160 1h1m12 0h1m4 0h1m29 0h1m10 0h1m4 0h1m4 0h1m4 0h1m2 0h2m5 0h1m1 0h1m6 0h1m2 0h1m1 0h1m2 0h1m1 0h3m1 0h3m1 0h1m1 0h4m2 0h4m1 0h1m1 0h16m1 0h3m1 0h7m1 0h1m1 0h2m1 0h1m4 0h2m-151 1h1m12 0h1m2 0h1m6 0h1m6 0h1m1 0h2m3 0h1m7 0h1m3 0h1m10 0h1m4 0h1m1 0h2m3 0h1m1 0h1m1 0h2m2 0h3m1 0h4m2 0h2m1 0h3m2 0h1m1 0h13m1 0h5m1 0h12m1 0h4m3 0h1m2 0h2m1 0h3m1 0h1m-146 1h1m20 0h1m13 0h1m2 0h1m1 0h1m3 0h1m2 0h1m1 0h1m2 0h2m4 0h1m2 0h4m1 0h2m1 0h1m5 0h1m1 0h1m1 0h1m3 0h1m1 0h4m2 0h1m2 0h2m2 0h27m1 0h8m1 0h1m2 0h7m-138 1h1m5 0h1m1 0h1m1 0h1m11 0h1m9 0h1m7 0h1m1 0h2m5 0h1m5 0h1m1 0h2m1 0h1m5 0h1m1 0h2m2 0h3m2 0h1m1 0h2m3 0h1m2 0h1m1 0h2m1 0h2m1 0h8m1 0h9m1 0h1m1 0h9m1 0h2m1 0h5m2 0h3m-132 1h1m2 0h1m3 0h1m21 0h1m1 0h1m3 0h1m2 0h3m3 0h1m3 0h1m4 0h3m1 0h1m1 0h1m1 0h1m3 0h3m1 0h2m1 0h1m1 0h2m1 0h8m2 0h7m1 0h21m1 0h8m1 0h2m3 0h2m-117 1h1m2 0h1m2 0h1m21 0h1m6 0h1m1 0h2m1 0h1m4 0h1m2 0h1m1 0h1m1 0h1m3 0h1m3 0h2m1 0h1m1 0h2m1 0h1m1 0h1m1 0h7m1 0h16m2 0h8m1 0h2m2 0h1m1 0h2m2 0h1m-151 1h1m1 0h1m13 0h2m5 0h1m4 0h1m1 0h1m23 0h1m3 0h1m11 0h2m4 0h2m1 0h4m1 0h1m1 0h1m1 0h1m1 0h3m5 0h2m1 0h1m1 0h1m1 0h1m1 0h2m1 0h11m1 0h18m1 0h1m1 0h4m1 0h5m-130 1h1m15 0h1m17 0h1m1 0h1m5 0h1m5 0h1m1 0h1m3 0h2m6 0h1m4 0h3m1 0h1m2 0h1m1 0h2m4 0h1m3 0h2m1 0h8m1 0h13m1 0h7m1 0h2m1 0h2m1 0h1m2 0h1m-114 1h1m7 0h1m2 0h1m8 0h1m1 0h1m4 0h1m2 0h1m1 0h1m3 0h2m2 0h1m1 0h1m3 0h1m1 0h1m4 0h2m4 0h1m2 0h3m3 0h5m2 0h1m1 0h4m1 0h11m1 0h5m1 0h2m1 0h3m1 0h2m4 0h1m-121 1h1m3 0h1m29 0h2m1 0h1m1 0h1m9 0h1m4 0h2m1 0h2m5 0h1m2 0h2m3 0h4m3 0h3m1 0h3m3 0h6m1 0h6m1 0h9m1 0h1m2 0h5m-148 1h1m34 0h1m2 0h1m18 0h1m8 0h1m2 0h1m1 0h1m5 0h1m1 0h3m4 0h1m3 0h1m2 0h1m1 0h1m10 0h2m1 0h6m1 0h3m1 0h2m1 0h14m3 0h1m1 0h3m-118 1h1m12 0h1m19 0h1m6 0h1m1 0h1m4 0h1m3 0h1m1 0h1m4 0h2m2 0h1m1 0h2m6 0h1m4 0h2m1 0h1m1 0h17m1 0h17m1 0h2m1 0h1m-106 1h1m6 0h1m8 0h2m1 0h1m4 0h1m1 0h3m1 0h1m2 0h1m4 0h1m2 0h2m1 0h2m2 0h2m1 0h2m1 0h3m2 0h3m1 0h1m1 0h4m1 0h1m2 0h6m1 0h1m1 0h12m2 0h5m2 0h2m1 0h1m-106 1h1m4 0h1m4 0h1m7 0h1m8 0h1m4 0h1m3 0h1m3 0h1m2 0h2m1 0h1m2 0h1m1 0h2m4 0h1m1 0h2m3 0h1m3 0h2m1 0h2m3 0h3m1 0h1m2 0h18m1 0h1m1 0h1m1 0h1m-136 1h1m17 0h1m2 0h1m12 0h1m8 0h1m4 0h1m8 0h1m4 0h1m11 0h1m5 0h2m2 0h3m2 0h1m2 0h1m1 0h5m1 0h8m1 0h4m3 0h5m1 0h8m1 0h4m-106 1h1m27 0h1m1 0h1m7 0h1m5 0h2m3 0h3m1 0h1m1 0h1m4 0h1m1 0h3m3 0h5m1 0h4m1 0h9m1 0h1m1 0h10m2 0h2m1 0h1m-115 1h1m24 0h2m8 0h1m8 0h1m5 0h2m4 0h2m5 0h1m7 0h4m1 0h1m1 0h1m5 0h2m1 0h1m2 0h9m1 0h10m1 0h2m-98 1h2m16 0h1m7 0h1m2 0h1m6 0h1m4 0h1m4 0h1m7 0h1m10 0h5m3 0h3m1 0h19m1 0h2m-130 1h1m32 0h1m6 0h1m11 0h1m9 0h2m16 0h3m9 0h1m1 0h1m4 0h3m4 0h4m1 0h10m2 0h5m-92 1h1m23 0h1m1 0h1m2 0h1m3 0h2m12 0h1m1 0h2m3 0h1m7 0h2m2 0h2m1 0h7m1 0h4m2 0h9m2 0h1m-143 1h1m56 0h1m2 0h1m22 0h3m3 0h1m6 0h1m1 0h1m7 0h1m5 0h2m2 0h3m1 0h10m1 0h5m2 0h6m-102 1h1m12 0h1m16 0h1m13 0h1m2 0h1m1 0h1m2 0h1m1 0h1m6 0h1m6 0h1m2 0h1m3 0h1m1 0h3m1 0h20m-82 1h1m7 0h1m21 0h1m2 0h3m2 0h1m3 0h1m1 0h1m1 0h2m1 0h1m1 0h1m4 0h1m2 0h3m1 0h10m1 0h2m1 0h5m-82 1h1m22 0h1m2 0h1m12 0h1m3 0h1m1 0h1m4 0h1m4 0h1m3 0h1m2 0h2m1 0h6m1 0h7m1 0h2m-65 1h1m31 0h1m1 0h2m6 0h1m1 0h1m1 0h8m1 0h1m1 0h1m1 0h1m1 0h2m3 0h1m-84 1h1m18 0h1m8 0h1m3 0h1m4 0h1m8 0h1m1 0h1m1 0h1m2 0h5m2 0h4m1 0h11m1 0h5m1 0h1m-115 1h1m39 0h2m6 0h1m13 0h1m8 0h1m4 0h1m3 0h3m1 0h1m4 0h1m2 0h23m-79 1h1m9 0h1m3 0h1m12 0h1m6 0h2m1 0h1m14 0h1m1 0h4m1 0h3m1 0h1m2 0h3m2 0h8m-48 1h1m1 0h1m1 0h1m5 0h1m6 0h1m2 0h1m1 0h1m2 0h1m1 0h2m1 0h5m1 0h6m1 0h5m-71 1h1m33 0h1m5 0h2m1 0h2m4 0h1m1 0h3m3 0h1m2 0h11m-83 1h1m36 0h1m13 0h1m4 0h1m1 0h1m1 0h2m1 0h2m3 0h2m1 0h5m1 0h3m1 0h1m-49 1h1m10 0h2m1 0h1m5 0h1m2 0h1m3 0h4m1 0h3m3 0h8m1 0h2m-52 1h1m20 0h1m3 0h1m1 0h1m4 0h3m1 0h3m1 0h1m1 0h1m1 0h1m1 0h8m-28 1h1m7 0h1m3 0h1m1 0h6m1 0h4m1 0h2m-43 1h1m10 0h1m9 0h1m2 0h2m1 0h1m1 0h1m1 0h3m1 0h4m1 0h2m-21 1h1m2 0h1m1 0h1m1 0h1m1 0h1m2 0h7m1 0h1m1 0h1m-55 1h1m14 0h1m2 0h1m8 0h2m1 0h1m1 0h3m4 0h8m2 0h4m-36 1h1m5 0h1m5 0h1m13 0h9m-27 1h1m8 0h2m4 0h1m2 0h2m1 0h7m1 0h1m-19 1h1m4 0h13m-37 1h1m6 0h1m11 0h2m3 0h3m2 0h2m1 0h6m-42 1h1m8 0h1m5 0h1m7 0h1m2 0h2m2 0h4m2 0h6m-28 1h1m1 0h1m11 0h3m1 0h6m1 0h2m-13 1h3m1 0h2m1 0h2m1 0h3m-90 1h1m69 0h2m2 0h2m5 0h1m1 0h1m1 0h4m-19 1h1m6 0h1m5 0h5m1 0h1m-10 1h10m-26 1h1m1 0h1m5 0h1m10 0h2m1 0h2m1 0h1m-11 1h1m2 0h3m2 0h1m1 0h1m-32 1h1m18 0h1m1 0h1m1 0h1m2 0h2m1 0h4m-8 1h2m1 0h3m1 0h1m-7 1h1m1 0h4m-29 1h1m7 0h1m14 0h2m2 0h1m1 0h1m-11 1h1m3 0h2m1 0h4m-10 1h1m3 0h1m1 0h1m1 0h2m-15 1h1m9 0h1m1 0h3m-7 1h9m-19 1h2m6 0h1m1 0h1m2 0h4m-12 1h1m3 0h3m2 0h2m-15 1h1m9 0h1m2 0h3m-3 1h2m1 0h1m-10 1h1m5 0h4m-4 1h3m-12 1h1m7 0h3m2 0h1m-4 1h2m-5 1h6m-6 1h1m1 0h3m-6 1h3m1 0h2m-3 1h1m1 0h1m-4 1h3m-26 1h1m23 0h3m-26 1h1m23 0h1m-2 1h3m-3 1h2m1 0h1m-1 1h1m-3 1h3m-3 1h3m-3 1h1m-1 1h1m0 1h2m-3 1h1m0 1h1m-1 1h1m0 1h1m-4 1h3m-2 1h1m2 0h1m-4 1h1m-1 1h1m1 0h1m-6 1h1m3 0h1m-3 1h1m2 0h2m-4 1h2m-5 1h1m2 0h2m-1 1h1m-2 1h1m1 0h1m-7 1h1m4 0h1m1 0h1m-8 1h1m1 0h1m3 0h1m-3 1h1m0 1h2m-3 1h2m-1 1h2m-3 1h1m-3 1h4m-2 1h1" stroke="#ff8080" stroke-width="1" fill="none"/>
<path d="M717.7 729.3L717.7 733.3L717.7 737.3L717.8 741.3L717.9 745.3L718 749.3L718.3 753.3L718.7 757.3L719.3 761.2L720.2 765.1L721.2 768.9L722.5 772.7L724.1 776.3L725.8 779.9L727.8 783.3L730 786.6L732.4 789.8L735 792.8L737.8 795.7L740.7 798.4L743.7 801L746.8 803.5L750.1 805.8L753.4 808L756.8 810.1L760.3 812L763.9 813.8L767.5 815.5L771.1 817.1L774.8 818.6L778.6 820.1L782.3 821.5L786.1 822.8L789.9 824.2L793.6 825.4L797.4 826.7L801.2 828L805 829.3L808.8 830.5L812.6 831.8L816.4 833.1L820.2 834.3L824 835.6L827.8 836.9L831.6 838.2L835.4 839.4L839.2 840.6L843 841.8L846.8 843L850.6 844.2L854.5 845.3L858.3 846.5L862.1 847.6L866 848.7L869.8 849.8L873.7 850.9L877.5 852L881.4 853L885.2 854.1L889.1 855.3L892.9 856.4L896.8 857.5L900.6 858.6L904.4 859.8L908.3 860.9L912.1 862.1L915.9 863.2L919.8 864.4L923.6 865.5L927.4 866.7L931.2 867.8L935.1 869L938.9 870.1L942.7 871.3L946.6 872.4L950.4 873.6L954.2 874.7L958.1 875.8L961.9 876.9L965.8 877.9L969.7 879L973.5 880L977.4 881.1L981.2 882.1L985.1 883.2L988.9 884.3L992.8 885.5L996.6 886.7L1000.4 888L1004.2 889.3L1008 890.6L1011.7 892L1015.4 893.5L1019.1 895L1022.7 896.7L1026.3 898.4L1029.8 900.3L1033.3 902.3L1036.7 904.3L1040.2 906.4L1043.6 908.4L1047 910.5L1050.4 912.6L1053.8 914.7L1057.1 916.9L1060.4 919.2L1063.6 921.6L1066.8 924L1069.9 926.5L1073 929L1076.1 931.6L1079.2 934.2L1082.2 936.9L1085.1 939.6L1088 942.4L1090.6 945.3L1093.1 948.4L1095.4 951.6L1097.5 955L1099.3 958.5L1101 962.1L1102.5 965.8L1103.9 969.6L1105.1 973.4L1106.2 977.2L1107.2 981.1L1108.1 984.7L1109.2 988.9L1110.1 992.7L1110.6 994.5" stroke="#ff0000" stroke-width="2.1" fill="none" stroke-linejoin="round"/>
<path d="M717.7 730L717.7 734.1L717.7 738.1L717.9 742L718.2 746L718.7 749.9L719.3 753.8L720.1 757.7L721.1 761.6L722.4 765.4L723.8 769.1L725.4 772.8L727.2 776.3L729.2 779.7L731.4 783L733.9 786.1L736.5 789L739.4 791.8L742.5 794.3L745.6 796.7L748.9 798.9L752.4 801L755.8 803L759.4 804.8L763 806.5L766.7 808.1L770.4 809.6L774.1 811.1L777.9 812.4L781.6 813.7L785.5 814.9L789.3 816.1L793.1 817.1L797 818.1L800.9 819.1L804.8 820L808.7 820.9L812.6 821.9L816.5 822.8L820.4 823.7L824.2 824.7L828.1 825.7L832 826.6L835.9 827.6L839.8 828.6L843.6 829.6L847.5 830.5L851.4 831.5L855.3 832.4L859.2 833.4L863.1 834.3L867 835.2L870.8 836.1L874.7 837.1L878.6 838L882.5 838.9L886.4 839.9L890.3 840.8L894.2 841.8L898.1 842.7L901.9 843.7L905.8 844.7L909.7 845.6L913.6 846.6L917.5 847.6L921.4 848.5L925.2 849.4L929.1 850.3L933 851.2L936.9 852.1L940.8 853L944.8 853.9L948.7 854.7L952.5 855.6L956.4 856.6L960.3 857.5L964.2 858.5L968.1 859.5L971.9 860.6L975.8 861.6L979.6 862.7L983.5 863.8L987.3 864.9L991.2 866L995 867.1L998.9 868.2L1002.7 869.3L1006.6 870.4L1010.4 871.5L1014.2 872.7L1018.1 873.9L1021.9 875.1L1025.7 876.3L1029.5 877.6L1033.3 878.9L1037 880.2L1040.8 881.6L1044.5 883.1L1048.1 884.7L1051.8 886.3L1055.4 888.1L1058.9 889.9L1062.5 891.8L1065.9 893.8L1069.4 895.8L1072.8 897.9L1076.2 900L1079.6 902.2L1082.9 904.5L1086 906.9L1089 909.5L1091.9 912.2L1094.5 915.2L1096.9 918.3L1099.1 921.6L1101.2 925L1103 928.5L1104.7 932.2L1106.2 935.8L1107.6 939.6L1108.8 943.4L1109.8 947.3L1110.8 951.1L1111.6 955.1L1112.3 959L1112.9 962.9L1113.4 966.9L1113.8 970.9L1114.2 974.8L1114.4 978.8L1114.6 982.4L1114.9 986.8L1115 990.8L1115 992.1" stroke="#0000ff" stroke-width="2.1" fill="none" stroke-linejoin="round"/>
<path d="M1116.2 996V1040" stroke="#0000ff" stroke-width="1.6" stroke-dasharray="6 4 3 5" fill="none"/>
<path d="M717.7 716V729" stroke="#0000ff" stroke-width="2" stroke-dasharray="3 2.5" fill="none"/>
<path d="M1114.4 965V995" stroke="#0000ff" stroke-width="3" fill="none"/>
<path d="M1114.4 1000V1080" stroke="#ff0000" stroke-width="2.2" stroke-dasharray="5 3 8 4 4 4 3 4" fill="none"/>
<circle cx="734.5" cy="1006.5" r="6" fill="#0000ff"/>
<circle cx="734.5" cy="1040" r="6" fill="#ff0000"/>
<circle cx="734.5" cy="1074.4" r="6" fill="#ff8080"/>
<text x="764.5" y="1015.2" font-size="22.8">sorted by mean</text>
<text x="764.5" y="1049.4" font-size="22.8">sorted by min</text>
<text x="764.5" y="1083.5" font-size="22.8">min while sorted by Mean</text>
<rect x="1266.4" y="56.4" width="757" height="453.9" fill="none" stroke="#000" stroke-width="2.6"/>
<path d="M1266.4 446.6L1275.9 446.6M1266.4 404.2L1275.9 404.2M1266.4 361.8L1275.9 361.8M1266.4 319.4L1275.9 319.4M1266.4 277L1275.9 277M1266.4 234.6L1275.9 234.6M1266.4 192.2L1275.9 192.2M1266.4 149.8L1275.9 149.8M1266.4 107.4L1275.9 107.4" stroke="#000" stroke-width="2.1" fill="none"/>
<text x="1197.5" y="31.7" font-size="35" font-weight="bold">(e)</text>
<text x="1259" y="455.9" font-size="23.4" text-anchor="end">2</text>
<text x="1259" y="413.5" font-size="23.4" text-anchor="end">3</text>
<text x="1259" y="371.1" font-size="23.4" text-anchor="end">4</text>
<text x="1259" y="328.7" font-size="23.4" text-anchor="end">5</text>
<text x="1259" y="286.3" font-size="23.4" text-anchor="end">6</text>
<text x="1259" y="243.9" font-size="23.4" text-anchor="end">7</text>
<text x="1259" y="201.5" font-size="23.4" text-anchor="end">8</text>
<text x="1259" y="159.1" font-size="23.4" text-anchor="end">9</text>
<text x="1259" y="116.7" font-size="23.4" text-anchor="end">10</text>
<text x="1366.3" y="543.6" font-size="24.5" text-anchor="middle">10%</text>
<text x="1510.4" y="543.6" font-size="24.5" text-anchor="middle">30%</text>
<text x="1654.5" y="543.6" font-size="24.5" text-anchor="middle">50%</text>
<text x="1798.6" y="543.6" font-size="24.5" text-anchor="middle">70%</text>
<text x="1942.7" y="543.6" font-size="24.5" text-anchor="middle">90%</text>
<text x="1645.4" y="589.8" font-size="25" text-anchor="middle">Size of Seen Data</text>
<text x="1212" y="283" font-size="25.8" text-anchor="middle" transform="rotate(-90 1212 283)">MSE</text>
<path d="M1315.4 145.3L1315.4 148.3L1315.3 151.3L1315.3 154.3L1315.2 157.3L1315.1 160.3L1315.1 163.3L1315 166.3L1314.9 169.3L1314.8 172.3L1314.8 175.3L1314.7 178.3L1314.6 181.3L1314.5 184.3L1314.4 187.3L1314.3 190.3L1314.2 193.3L1314.1 196.3L1314 199.3L1313.9 202.3L1313.8 205.3L1313.7 208.3L1313.6 211.3L1313.5 214.3L1313.4 217.3L1313.3 220.3L1313.2 223.3L1313.1 226.3L1312.9 229.3L1312.8 232.3L1312.6 235.3L1312.5 238.3L1312.3 241.3L1312.1 244.3L1312 247.3L1311.8 250.3L1311.6 253.3L1311.4 256.3L1311.2 259.3L1311 262.3L1310.8 265.3L1310.6 268.3L1310.4 271.3L1310.2 274.3L1310.1 277.3L1309.9 280.3L1309.7 283.3L1309.5 286.3L1309.3 289.3L1309 292.3L1308.8 295.3L1308.6 298.3L1308.4 301.3L1308.2 304.3L1308.1 307.3L1307.9 310.3L1307.7 313.3L1307.5 316.3L1307.3 319.3L1307.1 322.3L1307 325.3L1306.8 328.3L1306.6 331.3L1306.5 334.3L1306.3 337.3L1306.2 340.3L1306.2 343.3L1306.1 346.3L1306.1 349.3L1306.1 352.3L1306 355.3L1306 358.3L1306 361.3L1306 364.3L1306 367.3L1305.9 370.3L1305.9 373.3L1305.9 376.3L1305.9 379.3L1305.9 382.3L1305.9 385.3L1305.9 388.3L1305.9 391.3L1306 394.3L1306.1 397.3L1306.4 400.3L1306.7 403.3L1307 406.3L1307.4 409.3L1307.8 412.3L1308.1 415.3L1308.5 418.3L1308.9 421.3L1309.4 424.3L1309.9 427.3L1310.3 430.3L1310.7 433.3L1311.1 436.3L1311.5 439.3L1311.8 442.3L1312.2 445.3L1312.5 448.3L1312.8 451.3L1313.1 454.3L1313.4 457.3L1313.7 460.3L1314 463.3L1314.3 466.3L1314.6 469.3L1314.9 472.3L1315.2 475.3L1315.3 478.3L1315.4 481.3L1315.4 484.3L1315.4 487.3L1315.5 490.3L1315.5 493.3L1315.5 496.3L1315.5 499.3L1315.5 500.4L1316.7 500.4L1316.7 499.3L1316.7 496.3L1316.7 493.3L1316.7 490.3L1316.8 487.3L1316.8 484.3L1316.8 481.3L1316.9 478.3L1317 475.3L1317.3 472.3L1317.6 469.3L1317.9 466.3L1318.2 463.3L1318.5 460.3L1318.8 457.3L1319.1 454.3L1319.4 451.3L1319.7 448.3L1320 445.3L1320.4 442.3L1320.7 439.3L1321.1 436.3L1321.5 433.3L1321.9 430.3L1322.3 427.3L1322.8 424.3L1323.3 421.3L1323.7 418.3L1324.1 415.3L1324.4 412.3L1324.8 409.3L1325.2 406.3L1325.5 403.3L1325.8 400.3L1326.1 397.3L1326.2 394.3L1326.3 391.3L1326.3 388.3L1326.3 385.3L1326.3 382.3L1326.3 379.3L1326.3 376.3L1326.3 373.3L1326.3 370.3L1326.2 367.3L1326.2 364.3L1326.2 361.3L1326.2 358.3L1326.2 355.3L1326.1 352.3L1326.1 349.3L1326.1 346.3L1326 343.3L1326 340.3L1325.9 337.3L1325.7 334.3L1325.6 331.3L1325.4 328.3L1325.2 325.3L1325.1 322.3L1324.9 319.3L1324.7 316.3L1324.5 313.3L1324.3 310.3L1324.1 307.3L1324 304.3L1323.8 301.3L1323.6 298.3L1323.4 295.3L1323.2 292.3L1322.9 289.3L1322.7 286.3L1322.5 283.3L1322.3 280.3L1322.1 277.3L1322 274.3L1321.8 271.3L1321.6 268.3L1321.4 265.3L1321.2 262.3L1321 259.3L1320.8 256.3L1320.6 253.3L1320.4 250.3L1320.2 247.3L1320.1 244.3L1319.9 241.3L1319.7 238.3L1319.6 235.3L1319.4 232.3L1319.3 229.3L1319.1 226.3L1319 223.3L1318.9 220.3L1318.8 217.3L1318.7 214.3L1318.6 211.3L1318.5 208.3L1318.4 205.3L1318.3 202.3L1318.2 199.3L1318.1 196.3L1318 193.3L1317.9 190.3L1317.8 187.3L1317.7 184.3L1317.6 181.3L1317.5 178.3L1317.4 175.3L1317.4 172.3L1317.3 169.3L1317.2 166.3L1317.1 163.3L1317.1 160.3L1317 157.3L1316.9 154.3L1316.9 151.3L1316.8 148.3L1316.8 145.3Z" fill="#cc3300" stroke="#4a1c0c" stroke-width="1.7" stroke-linejoin="round"/>
<path d="M1348.9 145.3L1348.9 148.3L1348.9 151.3L1348.9 154.3L1348.9 157.3L1348.9 160.3L1348.9 163.3L1348.9 166.3L1348.9 169.3L1348.9 172.3L1348.9 175.3L1348.8 178.3L1348.8 181.3L1348.8 184.3L1348.8 187.3L1348.8 190.3L1348.8 193.3L1348.8 196.3L1348.8 199.3L1348.7 202.3L1348.7 205.3L1348.7 208.3L1348.7 211.3L1348.6 214.3L1348.6 217.3L1348.5 220.3L1348.4 223.3L1348.3 226.3L1348.2 229.3L1348.1 232.3L1348 235.3L1347.9 238.3L1347.7 241.3L1347.5 244.3L1347.3 247.3L1347.1 250.3L1346.9 253.3L1346.7 256.3L1346.5 259.3L1346.2 262.3L1346 265.3L1345.7 268.3L1345.5 271.3L1345.2 274.3L1344.9 277.3L1344.6 280.3L1344.3 283.3L1344 286.3L1343.7 289.3L1343.5 292.3L1343.2 295.3L1342.9 298.3L1342.7 301.3L1342.4 304.3L1342.2 307.3L1341.9 310.3L1341.7 313.3L1341.4 316.3L1341.2 319.3L1341 322.3L1340.8 325.3L1340.5 328.3L1340.3 331.3L1340 334.3L1339.8 337.3L1339.5 340.3L1339.2 343.3L1339 346.3L1338.9 349.3L1338.8 352.3L1338.8 355.3L1338.9 358.3L1339.1 361.3L1339.3 364.3L1339.6 367.3L1339.8 370.3L1340.1 373.3L1340.5 376.3L1340.9 379.3L1341.4 382.3L1341.9 385.3L1342.4 388.3L1342.9 391.3L1343.5 394.3L1344 397.3L1344.5 400.3L1345 403.3L1345.5 406.3L1346.1 409.3L1346.6 412.3L1347.1 415.3L1347.6 418.3L1348.2 421.3L1348.7 424.3L1348.8 427.3L1348.8 430.3L1348.9 433.3L1348.9 436.3L1348.9 436.6L1350.3 436.6L1350.3 436.3L1350.3 433.3L1350.4 430.3L1350.4 427.3L1350.5 424.3L1351 421.3L1351.6 418.3L1352.1 415.3L1352.6 412.3L1353.1 409.3L1353.7 406.3L1354.2 403.3L1354.7 400.3L1355.2 397.3L1355.7 394.3L1356.3 391.3L1356.8 388.3L1357.3 385.3L1357.8 382.3L1358.3 379.3L1358.7 376.3L1359.1 373.3L1359.4 370.3L1359.6 367.3L1359.9 364.3L1360.1 361.3L1360.3 358.3L1360.4 355.3L1360.4 352.3L1360.3 349.3L1360.2 346.3L1360 343.3L1359.7 340.3L1359.4 337.3L1359.2 334.3L1358.9 331.3L1358.7 328.3L1358.4 325.3L1358.2 322.3L1358 319.3L1357.8 316.3L1357.5 313.3L1357.3 310.3L1357 307.3L1356.8 304.3L1356.5 301.3L1356.3 298.3L1356 295.3L1355.7 292.3L1355.5 289.3L1355.2 286.3L1354.9 283.3L1354.6 280.3L1354.3 277.3L1354 274.3L1353.7 271.3L1353.5 268.3L1353.2 265.3L1353 262.3L1352.7 259.3L1352.5 256.3L1352.3 253.3L1352.1 250.3L1351.9 247.3L1351.7 244.3L1351.5 241.3L1351.3 238.3L1351.2 235.3L1351.1 232.3L1351 229.3L1350.9 226.3L1350.8 223.3L1350.7 220.3L1350.6 217.3L1350.6 214.3L1350.5 211.3L1350.5 208.3L1350.5 205.3L1350.5 202.3L1350.4 199.3L1350.4 196.3L1350.4 193.3L1350.4 190.3L1350.4 187.3L1350.4 184.3L1350.4 181.3L1350.4 178.3L1350.3 175.3L1350.3 172.3L1350.3 169.3L1350.3 166.3L1350.3 163.3L1350.3 160.3L1350.3 157.3L1350.3 154.3L1350.3 151.3L1350.3 148.3L1350.3 145.3Z" fill="#7357c1" stroke="#2a2450" stroke-width="1.7" stroke-linejoin="round"/>
<path d="M1383 330.2L1383 333.2L1383 336.2L1382.9 339.2L1382.9 342.2L1382.8 345.2L1382.7 348.2L1382.7 351.2L1382.6 354.2L1382.4 357.2L1382.1 360.2L1381.8 363.2L1381.5 366.2L1381.1 369.2L1380.7 372.2L1380.2 375.2L1379.7 378.2L1379.2 381.2L1378.7 384.2L1378.3 387.2L1377.8 390.2L1377.3 393.2L1376.8 396.2L1376.4 399.2L1375.9 402.2L1375.5 405.2L1375.2 408.2L1374.9 411.2L1374.6 414.2L1374.3 417.2L1374 420.2L1373.7 423.2L1373.5 426.2L1373.4 429.2L1373.3 432.2L1373.3 435.2L1373.5 438.2L1373.8 441.2L1374.1 444.2L1374.5 447.2L1374.9 450.2L1375.3 453.2L1375.8 456.2L1376.3 459.2L1376.9 462.2L1377.6 465.2L1378.3 468.2L1379 471.2L1379.6 474.2L1380.3 477.2L1381.1 480.2L1381.7 483.2L1382.2 486.2L1382.5 489.2L1382.7 492.2L1382.8 495.2L1382.9 498.2L1383 501.2L1383 502.9L1384.2 502.9L1384.2 501.2L1384.3 498.2L1384.4 495.2L1384.5 492.2L1384.7 489.2L1385 486.2L1385.5 483.2L1386.1 480.2L1386.9 477.2L1387.6 474.2L1388.2 471.2L1388.9 468.2L1389.6 465.2L1390.3 462.2L1390.9 459.2L1391.4 456.2L1391.9 453.2L1392.3 450.2L1392.7 447.2L1393.1 444.2L1393.4 441.2L1393.7 438.2L1393.9 435.2L1393.9 432.2L1393.8 429.2L1393.7 426.2L1393.5 423.2L1393.2 420.2L1392.9 417.2L1392.6 414.2L1392.3 411.2L1392 408.2L1391.7 405.2L1391.3 402.2L1390.8 399.2L1390.4 396.2L1389.9 393.2L1389.4 390.2L1388.9 387.2L1388.5 384.2L1388 381.2L1387.5 378.2L1387 375.2L1386.5 372.2L1386.1 369.2L1385.7 366.2L1385.4 363.2L1385.1 360.2L1384.8 357.2L1384.6 354.2L1384.5 351.2L1384.5 348.2L1384.4 345.2L1384.3 342.2L1384.3 339.2L1384.2 336.2L1384.2 333.2L1384.2 330.2Z" fill="#14875a" stroke="#0c3a28" stroke-width="1.7" stroke-linejoin="round"/>
<path d="M1416.1 339.7L1416.1 342.7L1416.1 345.7L1416.1 348.7L1416.1 351.7L1416.1 354.7L1416.1 357.7L1416 360.7L1416 363.7L1416 366.7L1416 369.7L1415.9 372.7L1415.9 375.7L1415.9 378.7L1415.8 381.7L1415.4 384.7L1414.7 387.7L1414.4 390.7L1414.3 393.7L1414.2 396.7L1414.2 399.7L1414.1 402.7L1413.7 405.7L1412.4 408.7L1410.9 411.7L1409.3 414.7L1407.5 417.7L1406.6 420.7L1408.5 423.7L1411.5 426.7L1414.7 429.7L1415.7 432.7L1416 435.7L1416.1 438.5L1417.5 438.5L1417.6 435.7L1417.9 432.7L1418.9 429.7L1422.1 426.7L1425.1 423.7L1427 420.7L1426.1 417.7L1424.3 414.7L1422.7 411.7L1421.2 408.7L1419.9 405.7L1419.5 402.7L1419.4 399.7L1419.4 396.7L1419.3 393.7L1419.2 390.7L1418.9 387.7L1418.2 384.7L1417.8 381.7L1417.7 378.7L1417.7 375.7L1417.7 372.7L1417.6 369.7L1417.6 366.7L1417.6 363.7L1417.6 360.7L1417.5 357.7L1417.5 354.7L1417.5 351.7L1417.5 348.7L1417.5 345.7L1417.5 342.7L1417.5 339.7Z" fill="#ff9900" stroke="#5a3e14" stroke-width="1.7" stroke-linejoin="round"/>
<path d="M1459.8 145.3L1459.8 148.3L1459.8 151.3L1459.8 154.3L1459.8 157.3L1459.8 160.3L1459.8 163.3L1459.8 166.3L1459.7 169.3L1459.7 172.3L1459.7 175.3L1459.7 178.3L1459.7 181.3L1459.7 184.3L1459.6 187.3L1459.6 190.3L1459.6 193.3L1459.6 196.3L1459.5 199.3L1459.5 202.3L1459.4 205.3L1459.3 208.3L1459.2 211.3L1459.1 214.3L1459 217.3L1458.9 220.3L1458.8 223.3L1458.7 226.3L1458.5 229.3L1458.4 232.3L1458.3 235.3L1458.2 238.3L1458 241.3L1457.9 244.3L1457.7 247.3L1457.5 250.3L1457.4 253.3L1457.1 256.3L1456.9 259.3L1456.7 262.3L1456.4 265.3L1456.1 268.3L1455.8 271.3L1455.5 274.3L1455.2 277.3L1454.9 280.3L1454.6 283.3L1454.4 286.3L1454.1 289.3L1453.8 292.3L1453.5 295.3L1453.3 298.3L1453 301.3L1452.8 304.3L1452.5 307.3L1452.2 310.3L1452 313.3L1451.8 316.3L1451.5 319.3L1451.4 322.3L1451.2 325.3L1451 328.3L1450.9 331.3L1450.7 334.3L1450.5 337.3L1450.4 340.3L1450.3 343.3L1450.2 346.3L1450.2 349.3L1450.2 352.3L1450.3 355.3L1450.4 358.3L1450.5 361.3L1450.7 364.3L1450.9 367.3L1451.1 370.3L1451.4 373.3L1451.6 376.3L1451.9 379.3L1452.4 382.3L1452.8 385.3L1453.4 388.3L1453.9 391.3L1454.4 394.3L1454.9 397.3L1455.4 400.3L1455.8 403.3L1456.2 406.3L1456.6 409.3L1457 412.3L1457.4 415.3L1457.8 418.3L1458.2 421.3L1458.5 424.3L1458.8 427.3L1459.1 430.3L1459.3 433.3L1459.5 436.3L1459.7 439.3L1459.7 442.3L1459.8 445.3L1459.8 448.3L1459.9 451.3L1459.9 454.3L1459.9 457.3L1459.9 457.6L1461.1 457.6L1461.1 457.3L1461.1 454.3L1461.1 451.3L1461.2 448.3L1461.2 445.3L1461.3 442.3L1461.3 439.3L1461.5 436.3L1461.7 433.3L1461.9 430.3L1462.2 427.3L1462.5 424.3L1462.8 421.3L1463.2 418.3L1463.6 415.3L1464 412.3L1464.4 409.3L1464.8 406.3L1465.2 403.3L1465.6 400.3L1466.1 397.3L1466.6 394.3L1467.1 391.3L1467.6 388.3L1468.2 385.3L1468.6 382.3L1469.1 379.3L1469.4 376.3L1469.6 373.3L1469.9 370.3L1470.1 367.3L1470.3 364.3L1470.5 361.3L1470.6 358.3L1470.7 355.3L1470.8 352.3L1470.8 349.3L1470.8 346.3L1470.7 343.3L1470.6 340.3L1470.5 337.3L1470.3 334.3L1470.1 331.3L1470 328.3L1469.8 325.3L1469.6 322.3L1469.5 319.3L1469.2 316.3L1469 313.3L1468.8 310.3L1468.5 307.3L1468.2 304.3L1468 301.3L1467.7 298.3L1467.5 295.3L1467.2 292.3L1466.9 289.3L1466.6 286.3L1466.4 283.3L1466.1 280.3L1465.8 277.3L1465.5 274.3L1465.2 271.3L1464.9 268.3L1464.6 265.3L1464.3 262.3L1464.1 259.3L1463.9 256.3L1463.6 253.3L1463.5 250.3L1463.3 247.3L1463.1 244.3L1463 241.3L1462.8 238.3L1462.7 235.3L1462.6 232.3L1462.5 229.3L1462.3 226.3L1462.2 223.3L1462.1 220.3L1462 217.3L1461.9 214.3L1461.8 211.3L1461.7 208.3L1461.6 205.3L1461.5 202.3L1461.5 199.3L1461.4 196.3L1461.4 193.3L1461.4 190.3L1461.4 187.3L1461.3 184.3L1461.3 181.3L1461.3 178.3L1461.3 175.3L1461.3 172.3L1461.3 169.3L1461.2 166.3L1461.2 163.3L1461.2 160.3L1461.2 157.3L1461.2 154.3L1461.2 151.3L1461.2 148.3L1461.2 145.3Z" fill="#cc3300" stroke="#4a1c0c" stroke-width="1.7" stroke-linejoin="round"/>
<path d="M1493.3 153.9L1493.3 156.9L1493.3 159.9L1493.3 162.9L1493.3 165.9L1493.3 168.9L1493.3 171.9L1493.3 174.9L1493.3 177.9L1493.3 180.9L1493.2 183.9L1493.2 186.9L1493.2 189.9L1493.2 192.9L1493.2 195.9L1493.2 198.9L1493.2 201.9L1493.1 204.9L1493.1 207.9L1493.1 210.9L1493.1 213.9L1493.1 216.9L1493 219.9L1493 222.9L1493 225.9L1492.9 228.9L1492.9 231.9L1492.9 234.9L1492.8 237.9L1492.8 240.9L1492.8 243.9L1492.7 246.9L1492.7 249.9L1492.5 252.9L1492.3 255.9L1492.1 258.9L1491.9 261.9L1491.7 264.9L1491.4 267.9L1491.2 270.9L1490.9 273.9L1490.6 276.9L1490.3 279.9L1490 282.9L1489.7 285.9L1489.4 288.9L1489.1 291.9L1488.8 294.9L1488.5 297.9L1488.1 300.9L1487.8 303.9L1487.5 306.9L1487.1 309.9L1486.8 312.9L1486.4 315.9L1486 318.9L1485.6 321.9L1485.2 324.9L1484.9 327.9L1484.6 330.9L1484.4 333.9L1484.1 336.9L1483.9 339.9L1483.8 342.9L1483.7 345.9L1483.7 348.9L1483.8 351.9L1484 354.9L1484.2 357.9L1484.5 360.9L1484.8 363.9L1485.1 366.9L1485.5 369.9L1486.1 372.9L1486.6 375.9L1487.2 378.9L1487.8 381.9L1488.3 384.9L1488.7 387.9L1489.2 390.9L1489.6 393.9L1490 396.9L1490.4 399.9L1490.8 402.9L1491.2 405.9L1491.6 408.9L1492 411.9L1492.5 414.9L1493 417.9L1493.3 420.9L1493.3 423.9L1493.4 426.9L1493.4 429.9L1493.5 432.9L1493.5 435.9L1493.5 438.9L1493.5 441.9L1493.5 443.3L1495.1 443.3L1495.1 441.9L1495.1 438.9L1495.1 435.9L1495.1 432.9L1495.2 429.9L1495.2 426.9L1495.3 423.9L1495.3 420.9L1495.6 417.9L1496.1 414.9L1496.6 411.9L1497 408.9L1497.4 405.9L1497.8 402.9L1498.2 399.9L1498.6 396.9L1499 393.9L1499.4 390.9L1499.9 387.9L1500.3 384.9L1500.8 381.9L1501.4 378.9L1502 375.9L1502.5 372.9L1503.1 369.9L1503.5 366.9L1503.8 363.9L1504.1 360.9L1504.4 357.9L1504.6 354.9L1504.8 351.9L1504.9 348.9L1504.9 345.9L1504.8 342.9L1504.7 339.9L1504.5 336.9L1504.2 333.9L1504 330.9L1503.7 327.9L1503.4 324.9L1503 321.9L1502.6 318.9L1502.2 315.9L1501.8 312.9L1501.5 309.9L1501.1 306.9L1500.8 303.9L1500.5 300.9L1500.1 297.9L1499.8 294.9L1499.5 291.9L1499.2 288.9L1498.9 285.9L1498.6 282.9L1498.3 279.9L1498 276.9L1497.7 273.9L1497.4 270.9L1497.2 267.9L1496.9 264.9L1496.7 261.9L1496.5 258.9L1496.3 255.9L1496.1 252.9L1495.9 249.9L1495.9 246.9L1495.8 243.9L1495.8 240.9L1495.8 237.9L1495.7 234.9L1495.7 231.9L1495.7 228.9L1495.6 225.9L1495.6 222.9L1495.6 219.9L1495.5 216.9L1495.5 213.9L1495.5 210.9L1495.5 207.9L1495.5 204.9L1495.4 201.9L1495.4 198.9L1495.4 195.9L1495.4 192.9L1495.4 189.9L1495.4 186.9L1495.4 183.9L1495.3 180.9L1495.3 177.9L1495.3 174.9L1495.3 171.9L1495.3 168.9L1495.3 165.9L1495.3 162.9L1495.3 159.9L1495.3 156.9L1495.3 153.9Z" fill="#7357c1" stroke="#2a2450" stroke-width="1.7" stroke-linejoin="round"/>
<path d="M1527.1 372.2L1527 375.2L1526.8 378.2L1526.5 381.2L1526.2 384.2L1525.7 387.2L1524.9 390.2L1524.1 393.2L1523.2 396.2L1522.4 399.2L1521.5 402.2L1520.6 405.2L1519.8 408.2L1519 411.2L1518.1 414.2L1517.3 417.2L1516.9 420.2L1516.9 423.2L1517.5 426.2L1518.5 429.2L1519.6 432.2L1520.6 435.2L1521.5 438.2L1522.5 441.2L1523.4 444.2L1524.3 447.2L1525.1 450.2L1526 453.2L1526.6 456.2L1526.9 459.2L1527 462.2L1527.1 465.2L1527.1 468.2L1527.1 469.8L1528.3 469.8L1528.3 468.2L1528.3 465.2L1528.4 462.2L1528.5 459.2L1528.8 456.2L1529.4 453.2L1530.3 450.2L1531.1 447.2L1532 444.2L1532.9 441.2L1533.9 438.2L1534.8 435.2L1535.8 432.2L1536.9 429.2L1537.9 426.2L1538.5 423.2L1538.5 420.2L1538.1 417.2L1537.3 414.2L1536.4 411.2L1535.6 408.2L1534.8 405.2L1533.9 402.2L1533 399.2L1532.2 396.2L1531.3 393.2L1530.5 390.2L1529.7 387.2L1529.2 384.2L1528.9 381.2L1528.6 378.2L1528.4 375.2L1528.3 372.2Z" fill="#14875a" stroke="#0c3a28" stroke-width="1.7" stroke-linejoin="round"/>
<path d="M1560.9 372.2L1560.9 375.2L1560.9 378.2L1560.8 381.2L1560.7 384.2L1560.7 387.2L1560.6 390.2L1560.4 393.2L1560.1 396.2L1559.6 399.2L1558.9 402.2L1558.2 405.2L1557 408.2L1555.7 411.2L1554.1 414.2L1552.1 417.2L1550.9 420.2L1552.1 423.2L1554.9 426.2L1557.2 429.2L1559.2 432.2L1560.4 435.2L1560.8 438.2L1560.9 441.2L1560.9 443.9L1562.1 443.9L1562.1 441.2L1562.2 438.2L1562.6 435.2L1563.8 432.2L1565.8 429.2L1568.1 426.2L1570.9 423.2L1572.1 420.2L1570.9 417.2L1568.9 414.2L1567.3 411.2L1566 408.2L1564.8 405.2L1564.1 402.2L1563.4 399.2L1562.9 396.2L1562.6 393.2L1562.4 390.2L1562.3 387.2L1562.3 384.2L1562.2 381.2L1562.1 378.2L1562.1 375.2L1562.1 372.2Z" fill="#ff9900" stroke="#5a3e14" stroke-width="1.7" stroke-linejoin="round"/>
<path d="M1604.2 145.3L1604.2 148.3L1604.2 151.3L1604.2 154.3L1604.2 157.3L1604.2 160.3L1604.2 163.3L1604.2 166.3L1604.2 169.3L1604.2 172.3L1604.2 175.3L1604.2 178.3L1604.1 181.3L1604.1 184.3L1604.1 187.3L1604.1 190.3L1604.1 193.3L1604.1 196.3L1604.1 199.3L1604.1 202.3L1604 205.3L1604 208.3L1604 211.3L1604 214.3L1603.9 217.3L1603.8 220.3L1603.6 223.3L1603.5 226.3L1603.3 229.3L1603.1 232.3L1602.9 235.3L1602.7 238.3L1602.4 241.3L1602.1 244.3L1601.8 247.3L1601.5 250.3L1601.2 253.3L1601 256.3L1600.8 259.3L1600.6 262.3L1600.4 265.3L1600.2 268.3L1600 271.3L1599.9 274.3L1599.7 277.3L1599.5 280.3L1599.3 283.3L1599.2 286.3L1599 289.3L1598.8 292.3L1598.5 295.3L1598.3 298.3L1598 301.3L1597.6 304.3L1597.3 307.3L1596.9 310.3L1596.6 313.3L1596.2 316.3L1596 319.3L1595.7 322.3L1595.4 325.3L1595.2 328.3L1594.9 331.3L1594.7 334.3L1594.5 337.3L1594.3 340.3L1594.3 343.3L1594.3 346.3L1594.4 349.3L1594.5 352.3L1594.7 355.3L1594.9 358.3L1595 361.3L1595.3 364.3L1595.5 367.3L1595.8 370.3L1596.2 373.3L1596.6 376.3L1597.1 379.3L1597.5 382.3L1597.9 385.3L1598.4 388.3L1598.8 391.3L1599.2 394.3L1599.6 397.3L1600.1 400.3L1600.5 403.3L1601 406.3L1601.4 409.3L1601.8 412.3L1602.2 415.3L1602.6 418.3L1603.1 421.3L1603.5 424.3L1603.8 427.3L1604 430.3L1604.1 433.3L1604.2 436.3L1604.2 439.3L1604.3 442.3L1604.3 445.3L1604.3 448.3L1604.3 450.3L1605.5 450.3L1605.5 448.3L1605.5 445.3L1605.5 442.3L1605.6 439.3L1605.6 436.3L1605.7 433.3L1605.8 430.3L1606 427.3L1606.3 424.3L1606.7 421.3L1607.2 418.3L1607.6 415.3L1608 412.3L1608.4 409.3L1608.8 406.3L1609.3 403.3L1609.7 400.3L1610.2 397.3L1610.6 394.3L1611 391.3L1611.4 388.3L1611.9 385.3L1612.3 382.3L1612.7 379.3L1613.2 376.3L1613.6 373.3L1614 370.3L1614.3 367.3L1614.5 364.3L1614.8 361.3L1614.9 358.3L1615.1 355.3L1615.3 352.3L1615.4 349.3L1615.5 346.3L1615.5 343.3L1615.5 340.3L1615.3 337.3L1615.1 334.3L1614.9 331.3L1614.6 328.3L1614.4 325.3L1614.1 322.3L1613.8 319.3L1613.6 316.3L1613.2 313.3L1612.9 310.3L1612.5 307.3L1612.2 304.3L1611.8 301.3L1611.5 298.3L1611.3 295.3L1611 292.3L1610.8 289.3L1610.6 286.3L1610.5 283.3L1610.3 280.3L1610.1 277.3L1609.9 274.3L1609.8 271.3L1609.6 268.3L1609.4 265.3L1609.2 262.3L1609 259.3L1608.8 256.3L1608.6 253.3L1608.3 250.3L1608 247.3L1607.7 244.3L1607.4 241.3L1607.1 238.3L1606.9 235.3L1606.7 232.3L1606.5 229.3L1606.3 226.3L1606.2 223.3L1606 220.3L1605.9 217.3L1605.8 214.3L1605.8 211.3L1605.8 208.3L1605.8 205.3L1605.7 202.3L1605.7 199.3L1605.7 196.3L1605.7 193.3L1605.7 190.3L1605.7 187.3L1605.7 184.3L1605.7 181.3L1605.6 178.3L1605.6 175.3L1605.6 172.3L1605.6 169.3L1605.6 166.3L1605.6 163.3L1605.6 160.3L1605.6 157.3L1605.6 154.3L1605.6 151.3L1605.6 148.3L1605.6 145.3Z" fill="#cc3300" stroke="#4a1c0c" stroke-width="1.7" stroke-linejoin="round"/>
<path d="M1637.6 145.3L1637.6 148.3L1637.6 151.3L1637.6 154.3L1637.6 157.3L1637.6 160.3L1637.6 163.3L1637.6 166.3L1637.6 169.3L1637.6 172.3L1637.6 175.3L1637.6 178.3L1637.5 181.3L1637.5 184.3L1637.5 187.3L1637.5 190.3L1637.5 193.3L1637.5 196.3L1637.5 199.3L1637.5 202.3L1637.4 205.3L1637.4 208.3L1637.4 211.3L1637.4 214.3L1637.4 217.3L1637.3 220.3L1637.3 223.3L1637.3 226.3L1637.2 229.3L1637.1 232.3L1637 235.3L1636.8 238.3L1636.6 241.3L1636.5 244.3L1636.3 247.3L1636.1 250.3L1635.9 253.3L1635.7 256.3L1635.5 259.3L1635.3 262.3L1635 265.3L1634.8 268.3L1634.5 271.3L1634.2 274.3L1633.9 277.3L1633.5 280.3L1633.1 283.3L1632.7 286.3L1632.3 289.3L1631.9 292.3L1631.5 295.3L1631.1 298.3L1630.7 301.3L1630.4 304.3L1630.1 307.3L1629.8 310.3L1629.4 313.3L1629.1 316.3L1628.8 319.3L1628.5 322.3L1628.2 325.3L1628 328.3L1627.8 331.3L1627.7 334.3L1627.7 337.3L1627.7 340.3L1627.8 343.3L1628 346.3L1628.1 349.3L1628.3 352.3L1628.5 355.3L1628.8 358.3L1629 361.3L1629.3 364.3L1629.7 367.3L1630.1 370.3L1630.5 373.3L1631 376.3L1631.5 379.3L1631.9 382.3L1632.3 385.3L1632.7 388.3L1633.1 391.3L1633.5 394.3L1633.9 397.3L1634.3 400.3L1634.7 403.3L1635 406.3L1635.4 409.3L1635.8 412.3L1636.1 415.3L1636.5 418.3L1636.9 421.3L1637.3 424.3L1637.5 427.3L1637.5 430.3L1637.6 433.3L1637.6 436.3L1637.7 439.3L1637.7 442.3L1637.7 445.3L1637.7 448.3L1637.7 448.7L1638.9 448.7L1638.9 448.3L1638.9 445.3L1638.9 442.3L1638.9 439.3L1639 436.3L1639 433.3L1639.1 430.3L1639.1 427.3L1639.3 424.3L1639.7 421.3L1640.1 418.3L1640.5 415.3L1640.8 412.3L1641.2 409.3L1641.6 406.3L1641.9 403.3L1642.3 400.3L1642.7 397.3L1643.1 394.3L1643.5 391.3L1643.9 388.3L1644.3 385.3L1644.7 382.3L1645.1 379.3L1645.6 376.3L1646.1 373.3L1646.5 370.3L1646.9 367.3L1647.3 364.3L1647.6 361.3L1647.8 358.3L1648.1 355.3L1648.3 352.3L1648.5 349.3L1648.6 346.3L1648.8 343.3L1648.9 340.3L1648.9 337.3L1648.9 334.3L1648.8 331.3L1648.6 328.3L1648.4 325.3L1648.1 322.3L1647.8 319.3L1647.5 316.3L1647.2 313.3L1646.8 310.3L1646.5 307.3L1646.2 304.3L1645.9 301.3L1645.5 298.3L1645.1 295.3L1644.7 292.3L1644.3 289.3L1643.9 286.3L1643.5 283.3L1643.1 280.3L1642.7 277.3L1642.4 274.3L1642.1 271.3L1641.8 268.3L1641.6 265.3L1641.3 262.3L1641.1 259.3L1640.9 256.3L1640.7 253.3L1640.5 250.3L1640.3 247.3L1640.1 244.3L1640 241.3L1639.8 238.3L1639.6 235.3L1639.5 232.3L1639.4 229.3L1639.3 226.3L1639.3 223.3L1639.3 220.3L1639.2 217.3L1639.2 214.3L1639.2 211.3L1639.2 208.3L1639.2 205.3L1639.1 202.3L1639.1 199.3L1639.1 196.3L1639.1 193.3L1639.1 190.3L1639.1 187.3L1639.1 184.3L1639.1 181.3L1639 178.3L1639 175.3L1639 172.3L1639 169.3L1639 166.3L1639 163.3L1639 160.3L1639 157.3L1639 154.3L1639 151.3L1639 148.3L1639 145.3Z" fill="#7357c1" stroke="#2a2450" stroke-width="1.7" stroke-linejoin="round"/>
<path d="M1671.5 387.5L1671.3 390.5L1671 393.5L1670.6 396.5L1670.1 399.5L1669.5 402.5L1668.6 405.5L1667.3 408.5L1665.9 411.5L1664.3 414.5L1662.5 417.5L1661.5 420.5L1662.3 423.5L1664.2 426.5L1665.9 429.5L1667.2 432.5L1668.4 435.5L1669.5 438.5L1670.6 441.5L1671.1 444.5L1671.3 447.5L1671.4 450.5L1671.5 453.5L1671.5 455L1672.7 455L1672.7 453.5L1672.8 450.5L1672.9 447.5L1673.1 444.5L1673.6 441.5L1674.7 438.5L1675.8 435.5L1677 432.5L1678.3 429.5L1680 426.5L1681.9 423.5L1682.7 420.5L1681.7 417.5L1679.9 414.5L1678.3 411.5L1676.9 408.5L1675.6 405.5L1674.7 402.5L1674.1 399.5L1673.6 396.5L1673.2 393.5L1672.9 390.5L1672.7 387.5Z" fill="#14875a" stroke="#0c3a28" stroke-width="1.7" stroke-linejoin="round"/>
<path d="M1705 381L1704.9 384L1704.7 387L1704.4 390L1704 393L1703.2 396L1702.2 399L1701.2 402L1700.1 405L1699 408L1697.8 411L1696.3 414L1695.1 417L1694.7 420L1695.8 423L1697.5 426L1699.1 429L1700.7 432L1702.2 435L1703.3 438L1704.3 441L1704.7 444L1704.8 447L1704.9 450L1705 453L1705 455L1706.2 455L1706.2 453L1706.3 450L1706.4 447L1706.5 444L1706.9 441L1707.9 438L1709 435L1710.5 432L1712.1 429L1713.7 426L1715.4 423L1716.5 420L1716.1 417L1714.9 414L1713.4 411L1712.2 408L1711.1 405L1710 402L1709 399L1708 396L1707.2 393L1706.8 390L1706.5 387L1706.3 384L1706.2 381Z" fill="#ff9900" stroke="#5a3e14" stroke-width="1.7" stroke-linejoin="round"/>
<path d="M1747.8 179.4L1747.8 182.4L1747.8 185.4L1747.8 188.4L1747.8 191.4L1747.8 194.4L1747.8 197.4L1747.8 200.4L1747.8 203.4L1747.8 206.4L1747.8 209.4L1747.8 212.4L1747.7 215.4L1747.7 218.4L1747.7 221.4L1747.7 224.4L1747.7 227.4L1747.7 230.4L1747.7 233.4L1747.7 236.4L1747.6 239.4L1747.6 242.4L1747.6 245.4L1747.5 248.4L1747.3 251.4L1747.1 254.4L1746.8 257.4L1746.5 260.4L1746.3 263.4L1746.1 266.4L1745.8 269.4L1745.6 272.4L1745.3 275.4L1745 278.4L1744.8 281.4L1744.5 284.4L1744.1 287.4L1743.8 290.4L1743.5 293.4L1743.1 296.4L1742.8 299.4L1742.4 302.4L1742 305.4L1741.7 308.4L1741.4 311.4L1741.1 314.4L1740.8 317.4L1740.4 320.4L1740.1 323.4L1739.8 326.4L1739.4 329.4L1739.1 332.4L1738.8 335.4L1738.6 338.4L1738.4 341.4L1738.3 344.4L1738.3 347.4L1738.4 350.4L1738.5 353.4L1738.8 356.4L1739 359.4L1739.4 362.4L1739.7 365.4L1740 368.4L1740.4 371.4L1740.8 374.4L1741.3 377.4L1741.8 380.4L1742.3 383.4L1742.8 386.4L1743.3 389.4L1743.7 392.4L1744.1 395.4L1744.5 398.4L1744.8 401.4L1745.1 404.4L1745.5 407.4L1745.8 410.4L1746.2 413.4L1746.5 416.4L1747 419.4L1747.6 422.4L1747.8 425.4L1747.9 428.4L1747.9 431.4L1748 434.4L1748 437.4L1748 440.4L1748 443.4L1748 443.9L1749.2 443.9L1749.2 443.4L1749.2 440.4L1749.2 437.4L1749.2 434.4L1749.3 431.4L1749.3 428.4L1749.4 425.4L1749.6 422.4L1750.2 419.4L1750.7 416.4L1751 413.4L1751.4 410.4L1751.7 407.4L1752.1 404.4L1752.4 401.4L1752.7 398.4L1753.1 395.4L1753.5 392.4L1753.9 389.4L1754.4 386.4L1754.9 383.4L1755.4 380.4L1755.9 377.4L1756.4 374.4L1756.8 371.4L1757.2 368.4L1757.5 365.4L1757.8 362.4L1758.2 359.4L1758.4 356.4L1758.7 353.4L1758.8 350.4L1758.9 347.4L1758.9 344.4L1758.8 341.4L1758.6 338.4L1758.4 335.4L1758.1 332.4L1757.8 329.4L1757.4 326.4L1757.1 323.4L1756.8 320.4L1756.4 317.4L1756.1 314.4L1755.8 311.4L1755.5 308.4L1755.2 305.4L1754.8 302.4L1754.4 299.4L1754.1 296.4L1753.7 293.4L1753.4 290.4L1753.1 287.4L1752.7 284.4L1752.4 281.4L1752.2 278.4L1751.9 275.4L1751.6 272.4L1751.4 269.4L1751.1 266.4L1750.9 263.4L1750.7 260.4L1750.4 257.4L1750.1 254.4L1749.9 251.4L1749.7 248.4L1749.6 245.4L1749.6 242.4L1749.6 239.4L1749.5 236.4L1749.5 233.4L1749.5 230.4L1749.5 227.4L1749.5 224.4L1749.5 221.4L1749.5 218.4L1749.5 215.4L1749.4 212.4L1749.4 209.4L1749.4 206.4L1749.4 203.4L1749.4 200.4L1749.4 197.4L1749.4 194.4L1749.4 191.4L1749.4 188.4L1749.4 185.4L1749.4 182.4L1749.4 179.4Z" fill="#cc3300" stroke="#4a1c0c" stroke-width="1.7" stroke-linejoin="round"/>
<path d="M1781.9 155.5L1781.9 158.5L1781.9 161.5L1781.9 164.5L1781.9 167.5L1781.9 170.5L1781.9 173.5L1781.9 176.5L1781.9 179.5L1781.9 182.5L1781.9 185.5L1781.8 188.5L1781.8 191.5L1781.8 194.5L1781.8 197.5L1781.8 200.5L1781.8 203.5L1781.8 206.5L1781.8 209.5L1781.7 212.5L1781.7 215.5L1781.7 218.5L1781.7 221.5L1781.6 224.5L1781.6 227.5L1781.6 230.5L1781.6 233.5L1781.5 236.5L1781.5 239.5L1781.5 242.5L1781.4 245.5L1781.4 248.5L1781.3 251.5L1781.3 254.5L1781.2 257.5L1780.9 260.5L1780.6 263.5L1780.3 266.5L1780 269.5L1779.6 272.5L1779.3 275.5L1779 278.5L1778.6 281.5L1778.3 284.5L1777.9 287.5L1777.6 290.5L1777.2 293.5L1776.8 296.5L1776.4 299.5L1776 302.5L1775.6 305.5L1775.2 308.5L1774.8 311.5L1774.5 314.5L1774.2 317.5L1773.8 320.5L1773.5 323.5L1773.1 326.5L1772.8 329.5L1772.4 332.5L1772.2 335.5L1771.9 338.5L1771.8 341.5L1771.8 344.5L1771.9 347.5L1772 350.5L1772.2 353.5L1772.4 356.5L1772.7 359.5L1773 362.5L1773.3 365.5L1773.5 368.5L1773.9 371.5L1774.2 374.5L1774.7 377.5L1775.1 380.5L1775.5 383.5L1776 386.5L1776.4 389.5L1776.9 392.5L1777.3 395.5L1777.7 398.5L1778.2 401.5L1778.6 404.5L1779 407.5L1779.5 410.5L1779.9 413.5L1780.3 416.5L1780.6 419.5L1781 422.5L1781.4 425.5L1781.7 428.5L1781.8 431.5L1781.9 434.5L1781.9 437.5L1781.9 440.5L1782 443.5L1782 446.5L1782 449.5L1782 452.5L1782 455.5L1782 458.3L1783.4 458.3L1783.4 455.5L1783.4 452.5L1783.4 449.5L1783.4 446.5L1783.4 443.5L1783.5 440.5L1783.5 437.5L1783.5 434.5L1783.6 431.5L1783.7 428.5L1784 425.5L1784.4 422.5L1784.8 419.5L1785.1 416.5L1785.5 413.5L1785.9 410.5L1786.4 407.5L1786.8 404.5L1787.2 401.5L1787.7 398.5L1788.1 395.5L1788.5 392.5L1789 389.5L1789.4 386.5L1789.9 383.5L1790.3 380.5L1790.7 377.5L1791.2 374.5L1791.5 371.5L1791.9 368.5L1792.1 365.5L1792.4 362.5L1792.7 359.5L1793 356.5L1793.2 353.5L1793.4 350.5L1793.5 347.5L1793.6 344.5L1793.6 341.5L1793.5 338.5L1793.2 335.5L1793 332.5L1792.6 329.5L1792.3 326.5L1791.9 323.5L1791.6 320.5L1791.2 317.5L1790.9 314.5L1790.6 311.5L1790.2 308.5L1789.8 305.5L1789.4 302.5L1789 299.5L1788.6 296.5L1788.2 293.5L1787.8 290.5L1787.5 287.5L1787.1 284.5L1786.8 281.5L1786.4 278.5L1786.1 275.5L1785.8 272.5L1785.4 269.5L1785.1 266.5L1784.8 263.5L1784.5 260.5L1784.2 257.5L1784.1 254.5L1784.1 251.5L1784 248.5L1784 245.5L1783.9 242.5L1783.9 239.5L1783.9 236.5L1783.8 233.5L1783.8 230.5L1783.8 227.5L1783.8 224.5L1783.7 221.5L1783.7 218.5L1783.7 215.5L1783.7 212.5L1783.6 209.5L1783.6 206.5L1783.6 203.5L1783.6 200.5L1783.6 197.5L1783.6 194.5L1783.6 191.5L1783.6 188.5L1783.5 185.5L1783.5 182.5L1783.5 179.5L1783.5 176.5L1783.5 173.5L1783.5 170.5L1783.5 167.5L1783.5 164.5L1783.5 161.5L1783.5 158.5L1783.5 155.5Z" fill="#7357c1" stroke="#2a2450" stroke-width="1.7" stroke-linejoin="round"/>
<path d="M1815.6 400.9L1815.4 403.9L1815 406.9L1814 409.9L1812 412.9L1809.7 415.9L1807 418.9L1805.9 421.9L1807.8 424.9L1810.7 427.9L1813.3 430.9L1814.9 433.9L1815.4 436.9L1815.5 439.9L1815.6 442.9L1815.6 443.9L1816.8 443.9L1816.8 442.9L1816.9 439.9L1817 436.9L1817.5 433.9L1819.1 430.9L1821.7 427.9L1824.6 424.9L1826.5 421.9L1825.4 418.9L1822.7 415.9L1820.4 412.9L1818.4 409.9L1817.4 406.9L1817 403.9L1816.8 400.9Z" fill="#14875a" stroke="#0c3a28" stroke-width="1.7" stroke-linejoin="round"/>
<path d="M1849.4 367.4L1849.4 370.4L1849.3 373.4L1849.2 376.4L1849.1 379.4L1848.9 382.4L1848.7 385.4L1848.3 388.4L1847.7 391.4L1847 394.4L1846.3 397.4L1845.4 400.4L1844.4 403.4L1843.5 406.4L1842.6 409.4L1841.5 412.4L1840.3 415.4L1839.5 418.4L1839.1 421.4L1839.4 424.4L1840.2 427.4L1841.4 430.4L1842.5 433.4L1843.4 436.4L1844.3 439.4L1845.2 442.4L1846.1 445.4L1846.9 448.4L1847.9 451.4L1848.8 454.4L1849.1 457.4L1849.2 460.4L1849.3 463.4L1849.4 466.4L1849.4 469.4L1849.4 471.7L1850.6 471.7L1850.6 469.4L1850.6 466.4L1850.7 463.4L1850.8 460.4L1850.9 457.4L1851.2 454.4L1852.1 451.4L1853.1 448.4L1853.9 445.4L1854.8 442.4L1855.7 439.4L1856.6 436.4L1857.5 433.4L1858.6 430.4L1859.8 427.4L1860.6 424.4L1860.9 421.4L1860.5 418.4L1859.7 415.4L1858.5 412.4L1857.4 409.4L1856.5 406.4L1855.6 403.4L1854.6 400.4L1853.7 397.4L1853 394.4L1852.3 391.4L1851.7 388.4L1851.3 385.4L1851.1 382.4L1850.9 379.4L1850.8 376.4L1850.7 373.4L1850.6 370.4L1850.6 367.4Z" fill="#ff9900" stroke="#5a3e14" stroke-width="1.7" stroke-linejoin="round"/>
<path d="M1892.2 145.3L1892.2 148.3L1892.2 151.3L1892.2 154.3L1892.2 157.3L1892.2 160.3L1892.2 163.3L1892.2 166.3L1892.2 169.3L1892.2 172.3L1892.2 175.3L1892.2 178.3L1892.2 181.3L1892.2 184.3L1892.1 187.3L1892.1 190.3L1892.1 193.3L1892.1 196.3L1892.1 199.3L1892.1 202.3L1892.1 205.3L1892.1 208.3L1892 211.3L1892 214.3L1892 217.3L1892 220.3L1892 223.3L1892 226.3L1891.9 229.3L1891.9 232.3L1891.9 235.3L1891.8 238.3L1891.7 241.3L1891.6 244.3L1891.4 247.3L1891.2 250.3L1891 253.3L1890.8 256.3L1890.6 259.3L1890.4 262.3L1890.2 265.3L1889.9 268.3L1889.7 271.3L1889.4 274.3L1889.1 277.3L1888.9 280.3L1888.6 283.3L1888.3 286.3L1888 289.3L1887.7 292.3L1887.4 295.3L1887.1 298.3L1886.8 301.3L1886.5 304.3L1886.2 307.3L1885.9 310.3L1885.7 313.3L1885.4 316.3L1885.1 319.3L1884.8 322.3L1884.4 325.3L1884.1 328.3L1883.8 331.3L1883.5 334.3L1883.2 337.3L1883 340.3L1882.8 343.3L1882.7 346.3L1882.6 349.3L1882.6 352.3L1882.8 355.3L1883 358.3L1883.3 361.3L1883.6 364.3L1883.9 367.3L1884.3 370.3L1884.7 373.3L1885.1 376.3L1885.7 379.3L1886.3 382.3L1886.9 385.3L1887.4 388.3L1887.9 391.3L1888.3 394.3L1888.7 397.3L1889 400.3L1889.3 403.3L1889.6 406.3L1890 409.3L1890.3 412.3L1890.7 415.3L1891.2 418.3L1891.8 421.3L1892.1 424.3L1892.2 427.3L1892.2 430.3L1892.3 433.3L1892.3 436.3L1892.3 437.6L1893.5 437.6L1893.5 436.3L1893.5 433.3L1893.6 430.3L1893.6 427.3L1893.7 424.3L1894 421.3L1894.6 418.3L1895.1 415.3L1895.5 412.3L1895.8 409.3L1896.2 406.3L1896.5 403.3L1896.8 400.3L1897.1 397.3L1897.5 394.3L1897.9 391.3L1898.4 388.3L1898.9 385.3L1899.5 382.3L1900.1 379.3L1900.7 376.3L1901.1 373.3L1901.5 370.3L1901.9 367.3L1902.2 364.3L1902.5 361.3L1902.8 358.3L1903 355.3L1903.2 352.3L1903.2 349.3L1903.1 346.3L1903 343.3L1902.8 340.3L1902.6 337.3L1902.3 334.3L1902 331.3L1901.7 328.3L1901.4 325.3L1901 322.3L1900.7 319.3L1900.4 316.3L1900.1 313.3L1899.9 310.3L1899.6 307.3L1899.3 304.3L1899 301.3L1898.7 298.3L1898.4 295.3L1898.1 292.3L1897.8 289.3L1897.5 286.3L1897.2 283.3L1896.9 280.3L1896.7 277.3L1896.4 274.3L1896.1 271.3L1895.9 268.3L1895.6 265.3L1895.4 262.3L1895.2 259.3L1895 256.3L1894.8 253.3L1894.6 250.3L1894.4 247.3L1894.2 244.3L1894.1 241.3L1894 238.3L1893.9 235.3L1893.9 232.3L1893.9 229.3L1893.8 226.3L1893.8 223.3L1893.8 220.3L1893.8 217.3L1893.8 214.3L1893.8 211.3L1893.7 208.3L1893.7 205.3L1893.7 202.3L1893.7 199.3L1893.7 196.3L1893.7 193.3L1893.7 190.3L1893.7 187.3L1893.6 184.3L1893.6 181.3L1893.6 178.3L1893.6 175.3L1893.6 172.3L1893.6 169.3L1893.6 166.3L1893.6 163.3L1893.6 160.3L1893.6 157.3L1893.6 154.3L1893.6 151.3L1893.6 148.3L1893.6 145.3Z" fill="#cc3300" stroke="#4a1c0c" stroke-width="1.7" stroke-linejoin="round"/>
<path d="M1926.1 145.3L1926.1 148.3L1926.1 151.3L1926.1 154.3L1926 157.3L1926 160.3L1926 163.3L1925.9 166.3L1925.9 169.3L1925.8 172.3L1925.8 175.3L1925.7 178.3L1925.7 181.3L1925.6 184.3L1925.5 187.3L1925.5 190.3L1925.4 193.3L1925.3 196.3L1925.2 199.3L1925.1 202.3L1925 205.3L1924.9 208.3L1924.7 211.3L1924.6 214.3L1924.4 217.3L1924.2 220.3L1924.1 223.3L1923.9 226.3L1923.8 229.3L1923.6 232.3L1923.4 235.3L1923.2 238.3L1923 241.3L1922.8 244.3L1922.6 247.3L1922.4 250.3L1922.3 253.3L1922.1 256.3L1921.9 259.3L1921.7 262.3L1921.5 265.3L1921.4 268.3L1921.2 271.3L1921 274.3L1920.8 277.3L1920.7 280.3L1920.5 283.3L1920.3 286.3L1920.2 289.3L1920 292.3L1919.8 295.3L1919.6 298.3L1919.4 301.3L1919.3 304.3L1919.1 307.3L1918.9 310.3L1918.7 313.3L1918.5 316.3L1918.2 319.3L1918 322.3L1917.8 325.3L1917.6 328.3L1917.4 331.3L1917.2 334.3L1917.1 337.3L1916.9 340.3L1916.7 343.3L1916.5 346.3L1916.4 349.3L1916.2 352.3L1916.2 355.3L1916.1 358.3L1916.1 361.3L1916.2 364.3L1916.3 367.3L1916.4 370.3L1916.6 373.3L1916.8 376.3L1917 379.3L1917.2 382.3L1917.4 385.3L1917.7 388.3L1917.9 391.3L1918.2 394.3L1918.5 397.3L1918.9 400.3L1919.3 403.3L1919.7 406.3L1920.1 409.3L1920.5 412.3L1920.8 415.3L1921.2 418.3L1921.5 421.3L1921.8 424.3L1922.1 427.3L1922.4 430.3L1922.8 433.3L1923.1 436.3L1923.4 439.3L1923.7 442.3L1924 445.3L1924.3 448.3L1924.6 451.3L1924.9 454.3L1925.3 457.3L1925.7 460.3L1926 463.3L1926.1 466.3L1926.2 469.3L1926.2 472.3L1926.3 475.3L1926.3 478.3L1926.3 481.3L1926.4 484.3L1926.4 487.3L1926.4 490.3L1926.4 493.3L1926.4 496.3L1926.4 497.2L1927.6 497.2L1927.6 496.3L1927.6 493.3L1927.6 490.3L1927.6 487.3L1927.6 484.3L1927.7 481.3L1927.7 478.3L1927.7 475.3L1927.8 472.3L1927.8 469.3L1927.9 466.3L1928 463.3L1928.3 460.3L1928.7 457.3L1929.1 454.3L1929.4 451.3L1929.7 448.3L1930 445.3L1930.3 442.3L1930.6 439.3L1930.9 436.3L1931.2 433.3L1931.6 430.3L1931.9 427.3L1932.2 424.3L1932.5 421.3L1932.8 418.3L1933.2 415.3L1933.5 412.3L1933.9 409.3L1934.3 406.3L1934.7 403.3L1935.1 400.3L1935.5 397.3L1935.8 394.3L1936.1 391.3L1936.3 388.3L1936.6 385.3L1936.8 382.3L1937 379.3L1937.2 376.3L1937.4 373.3L1937.6 370.3L1937.7 367.3L1937.8 364.3L1937.9 361.3L1937.9 358.3L1937.8 355.3L1937.8 352.3L1937.6 349.3L1937.5 346.3L1937.3 343.3L1937.1 340.3L1936.9 337.3L1936.8 334.3L1936.6 331.3L1936.4 328.3L1936.2 325.3L1936 322.3L1935.8 319.3L1935.5 316.3L1935.3 313.3L1935.1 310.3L1934.9 307.3L1934.7 304.3L1934.6 301.3L1934.4 298.3L1934.2 295.3L1934 292.3L1933.8 289.3L1933.7 286.3L1933.5 283.3L1933.3 280.3L1933.2 277.3L1933 274.3L1932.8 271.3L1932.6 268.3L1932.5 265.3L1932.3 262.3L1932.1 259.3L1931.9 256.3L1931.7 253.3L1931.6 250.3L1931.4 247.3L1931.2 244.3L1931 241.3L1930.8 238.3L1930.6 235.3L1930.4 232.3L1930.2 229.3L1930.1 226.3L1929.9 223.3L1929.8 220.3L1929.6 217.3L1929.4 214.3L1929.3 211.3L1929.1 208.3L1929 205.3L1928.9 202.3L1928.8 199.3L1928.7 196.3L1928.6 193.3L1928.5 190.3L1928.5 187.3L1928.4 184.3L1928.3 181.3L1928.3 178.3L1928.2 175.3L1928.2 172.3L1928.1 169.3L1928.1 166.3L1928 163.3L1928 160.3L1928 157.3L1927.9 154.3L1927.9 151.3L1927.9 148.3L1927.9 145.3Z" fill="#7357c1" stroke="#2a2450" stroke-width="1.7" stroke-linejoin="round"/>
<path d="M1959.9 412L1958.5 415L1954.5 418L1949.4 421L1954.5 424L1958.1 427L1959.3 430L1959.8 433L1959.9 434.4L1961.1 434.4L1961.2 433L1961.7 430L1962.9 427L1966.5 424L1971.6 421L1966.5 418L1962.5 415L1961.1 412Z" fill="#14875a" stroke="#0c3a28" stroke-width="1.7" stroke-linejoin="round"/>
<path d="M1993.3 318L1993.3 321L1993.3 324L1993.3 327L1993.3 330L1993.3 333L1993.2 336L1993.2 339L1993.2 342L1993.1 345L1993.1 348L1993 351L1993 354L1992.7 357L1992.2 360L1991.7 363L1991.2 366L1990.7 369L1990.2 372L1989.6 375L1989.1 378L1988.6 381L1988.1 384L1987.5 387L1987 390L1986.5 393L1986.1 396L1985.7 399L1985.4 402L1985 405L1984.7 408L1984.4 411L1984.1 414L1983.9 417L1983.8 420L1983.7 423L1983.8 426L1983.9 429L1984.2 432L1984.6 435L1985 438L1985.4 441L1985.9 444L1986.3 447L1986.8 450L1987.3 453L1987.9 456L1988.5 459L1989.1 462L1989.7 465L1990.3 468L1990.9 471L1991.4 474L1992 477L1992.6 480L1993 483L1993.1 486L1993.2 489L1993.2 492L1993.3 495L1993.3 498L1993.4 501L1993.4 504L1993.4 506L1994.6 506L1994.6 504L1994.6 501L1994.7 498L1994.7 495L1994.8 492L1994.8 489L1994.9 486L1995 483L1995.4 480L1996 477L1996.6 474L1997.1 471L1997.7 468L1998.3 465L1998.9 462L1999.5 459L2000.1 456L2000.7 453L2001.2 450L2001.7 447L2002.1 444L2002.6 441L2003 438L2003.4 435L2003.8 432L2004.1 429L2004.2 426L2004.3 423L2004.2 420L2004.1 417L2003.9 414L2003.6 411L2003.3 408L2003 405L2002.6 402L2002.3 399L2001.9 396L2001.5 393L2001 390L2000.5 387L1999.9 384L1999.4 381L1998.9 378L1998.4 375L1997.8 372L1997.3 369L1996.8 366L1996.3 363L1995.8 360L1995.3 357L1995 354L1995 351L1994.9 348L1994.9 345L1994.8 342L1994.8 339L1994.8 336L1994.7 333L1994.7 330L1994.7 327L1994.7 324L1994.7 321L1994.7 318Z" fill="#ff9900" stroke="#5a3e14" stroke-width="1.7" stroke-linejoin="round"/>
<rect x="1327.8" y="73.6" width="22" height="21.6" fill="#cc3300" stroke="#333" stroke-width="1.6"/>
<rect x="1327.8" y="107.6" width="22" height="21.6" fill="#14875a" stroke="#333" stroke-width="1.6"/>
<rect x="1650.3" y="73.6" width="22" height="21.6" fill="#7357c1" stroke="#333" stroke-width="1.6"/>
<rect x="1650.3" y="107.6" width="22" height="21.6" fill="#ff9900" stroke="#333" stroke-width="1.6"/>
<text x="1369" y="94" font-size="22.95">seen data (random chain)</text>
<text x="1371" y="128.1" font-size="22.95">seen data (best chain)</text>
<text x="1692" y="94" font-size="22.95">unseen data (random chain)</text>
<text x="1693.5" y="128.1" font-size="22.95">unseen data (best chain)</text>
<rect x="1273.9" y="672.1" width="742.9" height="445.8" fill="none" stroke="#000" stroke-width="2.6"/>
<path d="M1273.9 1075.1L1283.4 1075.1M1273.9 1031.4L1283.4 1031.4M1273.9 987.6L1283.4 987.6M1273.9 943.9L1283.4 943.9M1273.9 900.2L1283.4 900.2M1273.9 856.4L1283.4 856.4M1273.9 812.7L1283.4 812.7M1273.9 769L1283.4 769" stroke="#000" stroke-width="2.3" fill="none"/>
<text x="1200.6" y="654.8" font-size="35" font-weight="bold">(f)</text>
<text x="1265.2" y="1083.7" font-size="23.4" text-anchor="end">3</text>
<text x="1265.2" y="1040" font-size="23.4" text-anchor="end">4</text>
<text x="1265.2" y="996.2" font-size="23.4" text-anchor="end">5</text>
<text x="1265.2" y="952.5" font-size="23.4" text-anchor="end">6</text>
<text x="1265.2" y="908.8" font-size="23.4" text-anchor="end">7</text>
<text x="1265.2" y="865" font-size="23.4" text-anchor="end">8</text>
<text x="1265.2" y="821.3" font-size="23.4" text-anchor="end">9</text>
<text x="1265.2" y="777.6" font-size="23.4" text-anchor="end">10</text>
<text x="1366.6" y="1152.3" font-size="24.5" text-anchor="middle">2</text>
<text x="1509.8" y="1152.3" font-size="24.5" text-anchor="middle">4</text>
<text x="1652.9" y="1152.3" font-size="24.5" text-anchor="middle">6</text>
<text x="1796" y="1152.3" font-size="24.5" text-anchor="middle">8</text>
<text x="1939.2" y="1152.3" font-size="24.5" text-anchor="middle">10</text>
<text x="1645.5" y="1196.5" font-size="25.4" text-anchor="middle">Number of Chains</text>
<text x="1219.2" y="895.8" font-size="25.8" text-anchor="middle" transform="rotate(-90 1219.2 895.8)">MSE</text>
<path d="M1338.2 780.2V1067M1331 780.2h14.4M1331 1067h14.4" stroke="#808080" stroke-width="2.6" fill="none"/>
<rect x="1323.9" y="944.6" width="28.6" height="53.5" fill="#cc3300"/>
<path d="M1323.9 973.2h28.6" stroke="#fff" stroke-width="3.4" fill="none"/>
<circle cx="1366.8" cy="987.2" r="7.4" fill="#e8603c"/>
<path d="M1395.1 862.9V1085.3M1387.9 862.9h14.4M1387.9 1085.3h14.4" stroke="#808080" stroke-width="2.6" fill="none"/>
<rect x="1380.8" y="993" width="28.6" height="39.6" fill="#ff9900"/>
<path d="M1380.8 1014h28.6" stroke="#fff" stroke-width="3.4" fill="none"/>
<circle cx="1424.2" cy="1031.8" r="7.4" fill="#e09c24"/>
<path d="M1481.2 783.1V1019.8M1474 783.1h14.4M1474 1019.8h14.4" stroke="#808080" stroke-width="2.6" fill="none"/>
<rect x="1466.9" y="900.1" width="28.6" height="53.9" fill="#cc3300"/>
<path d="M1466.9 930.6h28.6" stroke="#fff" stroke-width="3.4" fill="none"/>
<circle cx="1508.8" cy="948.4" r="7.4" fill="#e8603c"/>
<path d="M1538.5 933.9V1072.8M1531.3 933.9h14.4M1531.3 1072.8h14.4" stroke="#808080" stroke-width="2.6" fill="none"/>
<rect x="1524.2" y="998.1" width="28.6" height="30.1" fill="#ff9900"/>
<path d="M1524.2 1014h28.6" stroke="#fff" stroke-width="3.4" fill="none"/>
<circle cx="1566.4" cy="1025.4" r="7.4" fill="#e09c24"/>
<path d="M1624.6 761.6V996.9M1617.4 761.6h14.4M1617.4 996.9h14.4" stroke="#808080" stroke-width="2.6" fill="none"/>
<rect x="1610.3" y="877.8" width="28.6" height="50.8" fill="#cc3300"/>
<path d="M1610.3 902.7h28.6" stroke="#fff" stroke-width="3.4" fill="none"/>
<circle cx="1653.6" cy="919.1" r="7.4" fill="#e8603c"/>
<path d="M1681.6 952.8V1065.3M1674.4 952.8h14.4M1674.4 1065.3h14.4" stroke="#808080" stroke-width="2.6" fill="none"/>
<rect x="1667.3" y="1004" width="28.6" height="23" fill="#ff9900"/>
<path d="M1667.3 1015.5h28.6" stroke="#fff" stroke-width="3.4" fill="none"/>
<circle cx="1708.9" cy="1029.6" r="7.4" fill="#e09c24"/>
<path d="M1766.8 759.1V968.4M1759.6 759.1h14.4M1759.6 968.4h14.4" stroke="#808080" stroke-width="2.6" fill="none"/>
<rect x="1752.5" y="861.7" width="28.6" height="47.7" fill="#cc3300"/>
<path d="M1752.5 885.8h28.6" stroke="#fff" stroke-width="3.4" fill="none"/>
<circle cx="1795.5" cy="906.4" r="7.4" fill="#e8603c"/>
<path d="M1823.9 964.3V1054M1816.7 964.3h14.4M1816.7 1054h14.4" stroke="#808080" stroke-width="2.6" fill="none"/>
<rect x="1809.6" y="1005.8" width="28.6" height="19.7" fill="#ff9900"/>
<path d="M1809.6 1016h28.6" stroke="#fff" stroke-width="3.4" fill="none"/>
<circle cx="1853" cy="1031.9" r="7.4" fill="#e09c24"/>
<path d="M1909.4 747.7V964.3M1902.2 747.7h14.4M1902.2 964.3h14.4" stroke="#808080" stroke-width="2.6" fill="none"/>
<rect x="1895.1" y="847.3" width="28.6" height="46.7" fill="#cc3300"/>
<path d="M1895.1 871.6h28.6" stroke="#fff" stroke-width="3.4" fill="none"/>
<circle cx="1937.8" cy="895.7" r="7.4" fill="#e8603c"/>
<path d="M1966.6 967.1V1063.2M1959.4 967.1h14.4M1959.4 1063.2h14.4" stroke="#808080" stroke-width="2.6" fill="none"/>
<rect x="1952.3" y="1007.1" width="28.6" height="18.4" fill="#ff9900"/>
<path d="M1952.3 1016.6h28.6" stroke="#fff" stroke-width="3.4" fill="none"/>
<circle cx="1995.3" cy="1025.5" r="7.4" fill="#e09c24"/>
<rect x="1364.2" y="682.6" width="21.6" height="21.6" fill="#cc3300" stroke="#8e4228" stroke-width="1.5"/>
<rect x="1364.2" y="718.6" width="21.6" height="21.6" fill="#ff9900" stroke="#b8822e" stroke-width="1.5"/>
<circle cx="1666.1" cy="694.3" r="5.8" fill="#e8603c"/>
<circle cx="1666.1" cy="730.3" r="5.8" fill="#e09c24"/>
<text x="1400" y="702.5" font-size="22.95">min (random chains)</text>
<text x="1400" y="739.2" font-size="22.95">mean (random chains)</text>
<text x="1697.5" y="702.5" font-size="22.95">min (representatives)</text>
<text x="1697.5" y="739.2" font-size="22.95">mean (representatives)</text>
</svg>
</body></html>
